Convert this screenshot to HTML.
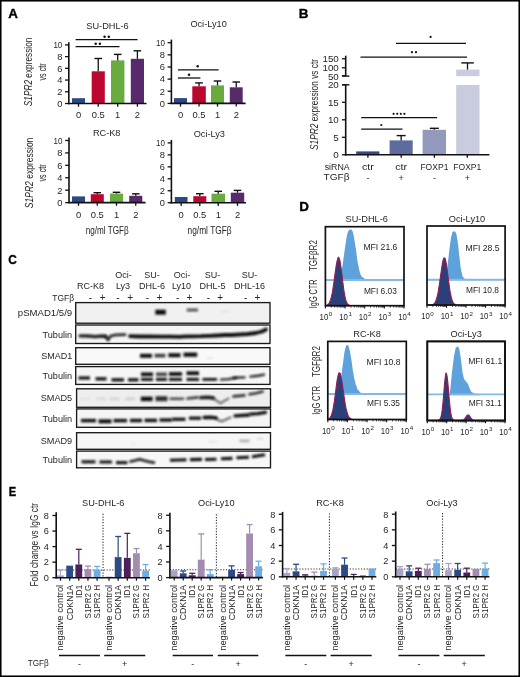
<!DOCTYPE html>
<html><head><meta charset="utf-8"><style>
html,body{margin:0;padding:0;background:#fff;}
body{width:520px;height:677px;overflow:hidden;}
svg{display:block;font-family:"Liberation Sans", sans-serif;filter:blur(0.3px);}
</style></head><body>
<svg width="520" height="677" viewBox="0 0 520 677">
<rect x="0" y="0" width="520" height="677" fill="#fff"/>
<text x="13.00" y="17.75" font-size="13.4" text-anchor="middle" font-weight="bold" fill="#000" stroke="#000" stroke-width="0.35">A</text>
<rect x="72.00" y="98.20" width="13.00" height="5.30" fill="#2c4a82" />
<rect x="91.70" y="71.30" width="13.10" height="32.20" fill="#bb0630" />
<rect x="111.00" y="60.40" width="13.40" height="43.10" fill="#6aab3f" />
<rect x="130.80" y="58.80" width="13.20" height="44.70" fill="#582a6c" />
<line x1="98.25" y1="71.30" x2="98.25" y2="58.50" stroke="#111" stroke-width="1.3" />
<line x1="94.45" y1="58.50" x2="102.05" y2="58.50" stroke="#111" stroke-width="1.4" />
<line x1="117.70" y1="60.40" x2="117.70" y2="54.40" stroke="#111" stroke-width="1.3" />
<line x1="113.90" y1="54.40" x2="121.50" y2="54.40" stroke="#111" stroke-width="1.4" />
<line x1="137.40" y1="58.80" x2="137.40" y2="50.80" stroke="#111" stroke-width="1.3" />
<line x1="133.60" y1="50.80" x2="141.20" y2="50.80" stroke="#111" stroke-width="1.4" />
<line x1="68.80" y1="42.20" x2="68.80" y2="104.20" stroke="#111" stroke-width="1.6" />
<line x1="68.00" y1="103.50" x2="146.50" y2="103.50" stroke="#111" stroke-width="1.6" />
<line x1="65.00" y1="103.50" x2="68.80" y2="103.50" stroke="#111" stroke-width="1.3" />
<text x="62.30" y="106.85" font-size="9.3" text-anchor="end" fill="#262626" >0</text>
<line x1="65.00" y1="91.78" x2="68.80" y2="91.78" stroke="#111" stroke-width="1.3" />
<text x="62.30" y="95.13" font-size="9.3" text-anchor="end" fill="#262626" >2</text>
<line x1="65.00" y1="80.06" x2="68.80" y2="80.06" stroke="#111" stroke-width="1.3" />
<text x="62.30" y="83.41" font-size="9.3" text-anchor="end" fill="#262626" >4</text>
<line x1="65.00" y1="68.34" x2="68.80" y2="68.34" stroke="#111" stroke-width="1.3" />
<text x="62.30" y="71.69" font-size="9.3" text-anchor="end" fill="#262626" >6</text>
<line x1="65.00" y1="56.62" x2="68.80" y2="56.62" stroke="#111" stroke-width="1.3" />
<text x="62.30" y="59.97" font-size="9.3" text-anchor="end" fill="#262626" >8</text>
<line x1="65.00" y1="44.90" x2="68.80" y2="44.90" stroke="#111" stroke-width="1.3" />
<text x="62.30" y="48.25" font-size="9.3" text-anchor="end" fill="#262626" textLength="8.90" lengthAdjust="spacingAndGlyphs" >10</text>
<line x1="78.50" y1="103.50" x2="78.50" y2="106.70" stroke="#111" stroke-width="1.3" />
<text x="78.50" y="118.00" font-size="9.4" text-anchor="middle" fill="#262626" >0</text>
<line x1="98.25" y1="103.50" x2="98.25" y2="106.70" stroke="#111" stroke-width="1.3" />
<text x="98.25" y="118.00" font-size="9.4" text-anchor="middle" fill="#262626" >0.5</text>
<line x1="117.70" y1="103.50" x2="117.70" y2="106.70" stroke="#111" stroke-width="1.3" />
<text x="117.70" y="118.00" font-size="9.4" text-anchor="middle" fill="#262626" >1</text>
<line x1="137.40" y1="103.50" x2="137.40" y2="106.70" stroke="#111" stroke-width="1.3" />
<text x="137.40" y="118.00" font-size="9.4" text-anchor="middle" fill="#262626" >2</text>
<text x="107.50" y="28.80" font-size="9.2" text-anchor="middle" fill="#262626" >SU-DHL-6</text>
<line x1="75.60" y1="39.60" x2="137.60" y2="39.60" stroke="#111" stroke-width="1.3" />
<circle cx="104.60" cy="36.80" r="1.25" fill="#111"/>
<circle cx="108.80" cy="36.80" r="1.25" fill="#111"/>
<line x1="75.60" y1="46.60" x2="119.50" y2="46.60" stroke="#111" stroke-width="1.3" />
<circle cx="95.70" cy="43.70" r="1.25" fill="#111"/>
<circle cx="99.90" cy="43.70" r="1.25" fill="#111"/>
<rect x="174.00" y="98.10" width="13.00" height="5.30" fill="#2c4a82" />
<rect x="192.30" y="86.30" width="13.50" height="17.10" fill="#bb0630" />
<rect x="211.00" y="85.40" width="13.00" height="18.00" fill="#6aab3f" />
<rect x="229.80" y="87.30" width="12.90" height="16.10" fill="#582a6c" />
<line x1="199.05" y1="86.30" x2="199.05" y2="82.90" stroke="#111" stroke-width="1.3" />
<line x1="195.25" y1="82.90" x2="202.85" y2="82.90" stroke="#111" stroke-width="1.4" />
<line x1="217.50" y1="85.40" x2="217.50" y2="81.00" stroke="#111" stroke-width="1.3" />
<line x1="213.70" y1="81.00" x2="221.30" y2="81.00" stroke="#111" stroke-width="1.4" />
<line x1="236.25" y1="87.30" x2="236.25" y2="82.00" stroke="#111" stroke-width="1.3" />
<line x1="232.45" y1="82.00" x2="240.05" y2="82.00" stroke="#111" stroke-width="1.4" />
<line x1="171.40" y1="39.60" x2="171.40" y2="104.10" stroke="#111" stroke-width="1.6" />
<line x1="170.60" y1="103.40" x2="245.60" y2="103.40" stroke="#111" stroke-width="1.6" />
<line x1="167.60" y1="103.40" x2="171.40" y2="103.40" stroke="#111" stroke-width="1.3" />
<text x="164.90" y="106.75" font-size="9.3" text-anchor="end" fill="#262626" >0</text>
<line x1="167.60" y1="91.26" x2="171.40" y2="91.26" stroke="#111" stroke-width="1.3" />
<text x="164.90" y="94.61" font-size="9.3" text-anchor="end" fill="#262626" >2</text>
<line x1="167.60" y1="79.12" x2="171.40" y2="79.12" stroke="#111" stroke-width="1.3" />
<text x="164.90" y="82.47" font-size="9.3" text-anchor="end" fill="#262626" >4</text>
<line x1="167.60" y1="66.98" x2="171.40" y2="66.98" stroke="#111" stroke-width="1.3" />
<text x="164.90" y="70.33" font-size="9.3" text-anchor="end" fill="#262626" >6</text>
<line x1="167.60" y1="54.84" x2="171.40" y2="54.84" stroke="#111" stroke-width="1.3" />
<text x="164.90" y="58.19" font-size="9.3" text-anchor="end" fill="#262626" >8</text>
<line x1="167.60" y1="42.70" x2="171.40" y2="42.70" stroke="#111" stroke-width="1.3" />
<text x="164.90" y="46.05" font-size="9.3" text-anchor="end" fill="#262626" textLength="8.90" lengthAdjust="spacingAndGlyphs" >10</text>
<line x1="180.50" y1="103.40" x2="180.50" y2="106.60" stroke="#111" stroke-width="1.3" />
<text x="180.50" y="118.00" font-size="9.4" text-anchor="middle" fill="#262626" >0</text>
<line x1="199.05" y1="103.40" x2="199.05" y2="106.60" stroke="#111" stroke-width="1.3" />
<text x="199.05" y="118.00" font-size="9.4" text-anchor="middle" fill="#262626" >0.5</text>
<line x1="217.50" y1="103.40" x2="217.50" y2="106.60" stroke="#111" stroke-width="1.3" />
<text x="217.50" y="118.00" font-size="9.4" text-anchor="middle" fill="#262626" >1</text>
<line x1="236.25" y1="103.40" x2="236.25" y2="106.60" stroke="#111" stroke-width="1.3" />
<text x="236.25" y="118.00" font-size="9.4" text-anchor="middle" fill="#262626" >2</text>
<text x="208.60" y="27.10" font-size="9.2" text-anchor="middle" fill="#262626" >Oci-Ly10</text>
<line x1="177.90" y1="69.80" x2="218.60" y2="69.80" stroke="#111" stroke-width="1.3" />
<circle cx="197.70" cy="66.30" r="1.25" fill="#111"/>
<line x1="177.90" y1="78.00" x2="200.40" y2="78.00" stroke="#111" stroke-width="1.3" />
<circle cx="189.00" cy="74.80" r="1.25" fill="#111"/>
<rect x="72.00" y="196.40" width="13.00" height="6.20" fill="#2c4a82" />
<rect x="90.80" y="194.20" width="13.00" height="8.40" fill="#bb0630" />
<rect x="110.00" y="193.60" width="13.00" height="9.00" fill="#6aab3f" />
<rect x="129.20" y="195.80" width="13.10" height="6.80" fill="#582a6c" />
<line x1="97.30" y1="194.20" x2="97.30" y2="192.70" stroke="#111" stroke-width="1.3" />
<line x1="93.50" y1="192.70" x2="101.10" y2="192.70" stroke="#111" stroke-width="1.4" />
<line x1="116.50" y1="193.60" x2="116.50" y2="192.30" stroke="#111" stroke-width="1.3" />
<line x1="112.70" y1="192.30" x2="120.30" y2="192.30" stroke="#111" stroke-width="1.4" />
<line x1="135.75" y1="195.80" x2="135.75" y2="193.80" stroke="#111" stroke-width="1.3" />
<line x1="131.95" y1="193.80" x2="139.55" y2="193.80" stroke="#111" stroke-width="1.4" />
<line x1="69.00" y1="137.50" x2="69.00" y2="203.30" stroke="#111" stroke-width="1.6" />
<line x1="68.20" y1="202.60" x2="145.60" y2="202.60" stroke="#111" stroke-width="1.6" />
<line x1="65.20" y1="202.60" x2="69.00" y2="202.60" stroke="#111" stroke-width="1.3" />
<text x="62.50" y="205.95" font-size="9.3" text-anchor="end" fill="#262626" >0</text>
<line x1="65.20" y1="190.18" x2="69.00" y2="190.18" stroke="#111" stroke-width="1.3" />
<text x="62.50" y="193.53" font-size="9.3" text-anchor="end" fill="#262626" >2</text>
<line x1="65.20" y1="177.76" x2="69.00" y2="177.76" stroke="#111" stroke-width="1.3" />
<text x="62.50" y="181.11" font-size="9.3" text-anchor="end" fill="#262626" >4</text>
<line x1="65.20" y1="165.34" x2="69.00" y2="165.34" stroke="#111" stroke-width="1.3" />
<text x="62.50" y="168.69" font-size="9.3" text-anchor="end" fill="#262626" >6</text>
<line x1="65.20" y1="152.92" x2="69.00" y2="152.92" stroke="#111" stroke-width="1.3" />
<text x="62.50" y="156.27" font-size="9.3" text-anchor="end" fill="#262626" >8</text>
<line x1="65.20" y1="140.50" x2="69.00" y2="140.50" stroke="#111" stroke-width="1.3" />
<text x="62.50" y="143.85" font-size="9.3" text-anchor="end" fill="#262626" textLength="8.90" lengthAdjust="spacingAndGlyphs" >10</text>
<line x1="78.50" y1="202.60" x2="78.50" y2="205.80" stroke="#111" stroke-width="1.3" />
<text x="78.50" y="217.80" font-size="9.4" text-anchor="middle" fill="#262626" >0</text>
<line x1="97.30" y1="202.60" x2="97.30" y2="205.80" stroke="#111" stroke-width="1.3" />
<text x="97.30" y="217.80" font-size="9.4" text-anchor="middle" fill="#262626" >0.5</text>
<line x1="116.50" y1="202.60" x2="116.50" y2="205.80" stroke="#111" stroke-width="1.3" />
<text x="116.50" y="217.80" font-size="9.4" text-anchor="middle" fill="#262626" >1</text>
<line x1="135.75" y1="202.60" x2="135.75" y2="205.80" stroke="#111" stroke-width="1.3" />
<text x="135.75" y="217.80" font-size="9.4" text-anchor="middle" fill="#262626" >2</text>
<text x="106.70" y="135.90" font-size="9.2" text-anchor="middle" fill="#262626" >RC-K8</text>
<rect x="174.80" y="197.00" width="12.70" height="5.70" fill="#2c4a82" />
<rect x="193.30" y="196.20" width="13.00" height="6.50" fill="#bb0630" />
<rect x="211.50" y="193.70" width="13.50" height="9.00" fill="#6aab3f" />
<rect x="230.80" y="192.70" width="13.40" height="10.00" fill="#582a6c" />
<line x1="199.80" y1="196.20" x2="199.80" y2="193.70" stroke="#111" stroke-width="1.3" />
<line x1="196.00" y1="193.70" x2="203.60" y2="193.70" stroke="#111" stroke-width="1.4" />
<line x1="218.25" y1="193.70" x2="218.25" y2="191.30" stroke="#111" stroke-width="1.3" />
<line x1="214.45" y1="191.30" x2="222.05" y2="191.30" stroke="#111" stroke-width="1.4" />
<line x1="237.50" y1="192.70" x2="237.50" y2="190.40" stroke="#111" stroke-width="1.3" />
<line x1="233.70" y1="190.40" x2="241.30" y2="190.40" stroke="#111" stroke-width="1.4" />
<line x1="171.40" y1="139.90" x2="171.40" y2="203.40" stroke="#111" stroke-width="1.6" />
<line x1="170.60" y1="202.70" x2="246.00" y2="202.70" stroke="#111" stroke-width="1.6" />
<line x1="167.60" y1="202.70" x2="171.40" y2="202.70" stroke="#111" stroke-width="1.3" />
<text x="164.90" y="206.05" font-size="9.3" text-anchor="end" fill="#262626" >0</text>
<line x1="167.60" y1="190.74" x2="171.40" y2="190.74" stroke="#111" stroke-width="1.3" />
<text x="164.90" y="194.09" font-size="9.3" text-anchor="end" fill="#262626" >2</text>
<line x1="167.60" y1="178.78" x2="171.40" y2="178.78" stroke="#111" stroke-width="1.3" />
<text x="164.90" y="182.13" font-size="9.3" text-anchor="end" fill="#262626" >4</text>
<line x1="167.60" y1="166.82" x2="171.40" y2="166.82" stroke="#111" stroke-width="1.3" />
<text x="164.90" y="170.17" font-size="9.3" text-anchor="end" fill="#262626" >6</text>
<line x1="167.60" y1="154.86" x2="171.40" y2="154.86" stroke="#111" stroke-width="1.3" />
<text x="164.90" y="158.21" font-size="9.3" text-anchor="end" fill="#262626" >8</text>
<line x1="167.60" y1="142.90" x2="171.40" y2="142.90" stroke="#111" stroke-width="1.3" />
<text x="164.90" y="146.25" font-size="9.3" text-anchor="end" fill="#262626" textLength="8.90" lengthAdjust="spacingAndGlyphs" >10</text>
<line x1="181.15" y1="202.70" x2="181.15" y2="205.90" stroke="#111" stroke-width="1.3" />
<text x="181.15" y="217.80" font-size="9.4" text-anchor="middle" fill="#262626" >0</text>
<line x1="199.80" y1="202.70" x2="199.80" y2="205.90" stroke="#111" stroke-width="1.3" />
<text x="199.80" y="217.80" font-size="9.4" text-anchor="middle" fill="#262626" >0.5</text>
<line x1="218.25" y1="202.70" x2="218.25" y2="205.90" stroke="#111" stroke-width="1.3" />
<text x="218.25" y="217.80" font-size="9.4" text-anchor="middle" fill="#262626" >1</text>
<line x1="237.50" y1="202.70" x2="237.50" y2="205.90" stroke="#111" stroke-width="1.3" />
<text x="237.50" y="217.80" font-size="9.4" text-anchor="middle" fill="#262626" >2</text>
<text x="209.30" y="136.60" font-size="9.2" text-anchor="middle" fill="#262626" >Oci-Ly3</text>
<text x="0" y="0" font-size="10.4" text-anchor="middle" fill="#262626" transform="translate(32.30,71.90) rotate(-90)" textLength="68.5" lengthAdjust="spacingAndGlyphs"><tspan font-style="italic">S1PR2</tspan> expression</text>
<text x="0" y="0" font-size="10.4" text-anchor="middle" fill="#262626" transform="translate(45.50,71.90) rotate(-90)" textLength="17.3" lengthAdjust="spacingAndGlyphs">vs ctr</text>
<text x="0" y="0" font-size="10.4" text-anchor="middle" fill="#262626" transform="translate(33.10,172.90) rotate(-90)" textLength="70.5" lengthAdjust="spacingAndGlyphs"><tspan font-style="italic">S1PR2</tspan> expression</text>
<text x="0" y="0" font-size="10.4" text-anchor="middle" fill="#262626" transform="translate(46.10,172.90) rotate(-90)" textLength="17.3" lengthAdjust="spacingAndGlyphs">vs ctr</text>
<text x="107.20" y="234.40" font-size="10.4" text-anchor="middle" fill="#262626" textLength="43.00" lengthAdjust="spacingAndGlyphs" >ng/ml TGFβ</text>
<text x="209.60" y="234.40" font-size="10.4" text-anchor="middle" fill="#262626" textLength="44.00" lengthAdjust="spacingAndGlyphs" >ng/ml TGFβ</text>
<text x="303.50" y="17.75" font-size="13.4" text-anchor="middle" font-weight="bold" fill="#000" stroke="#000" stroke-width="0.35">B</text>
<rect x="356.20" y="151.40" width="23.20" height="3.40" fill="#2f4b80" />
<rect x="389.60" y="140.40" width="23.10" height="14.40" fill="#5d6b9d" />
<rect x="422.60" y="129.80" width="23.40" height="25.00" fill="#9299bd" />
<rect x="456.20" y="85.00" width="23.30" height="69.80" fill="#c9cbdf" />
<rect x="456.20" y="69.60" width="23.30" height="6.60" fill="#c9cbdf" />
<line x1="401.15" y1="140.40" x2="401.15" y2="135.60" stroke="#111" stroke-width="1.3" />
<line x1="396.65" y1="135.60" x2="405.65" y2="135.60" stroke="#111" stroke-width="1.4" />
<line x1="434.30" y1="129.80" x2="434.30" y2="128.30" stroke="#111" stroke-width="1.3" />
<line x1="429.80" y1="128.30" x2="438.80" y2="128.30" stroke="#111" stroke-width="1.4" />
<line x1="467.50" y1="69.60" x2="467.50" y2="62.90" stroke="#111" stroke-width="1.3" />
<line x1="461.30" y1="62.90" x2="473.80" y2="62.90" stroke="#111" stroke-width="1.4" />
<line x1="345.70" y1="84.80" x2="345.70" y2="155.50" stroke="#111" stroke-width="1.6" />
<line x1="345.70" y1="55.70" x2="345.70" y2="76.10" stroke="#111" stroke-width="1.6" />
<line x1="342.20" y1="76.10" x2="349.40" y2="76.10" stroke="#111" stroke-width="1.4" />
<line x1="342.20" y1="84.80" x2="349.40" y2="84.80" stroke="#111" stroke-width="1.4" />
<line x1="344.90" y1="154.80" x2="489.40" y2="154.80" stroke="#111" stroke-width="1.6" />
<line x1="341.90" y1="154.80" x2="345.70" y2="154.80" stroke="#111" stroke-width="1.3" />
<text x="338.80" y="158.30" font-size="9.8" text-anchor="end" fill="#262626" >0</text>
<line x1="341.90" y1="137.30" x2="345.70" y2="137.30" stroke="#111" stroke-width="1.3" />
<text x="338.80" y="140.80" font-size="9.8" text-anchor="end" fill="#262626" >5</text>
<line x1="341.90" y1="119.80" x2="345.70" y2="119.80" stroke="#111" stroke-width="1.3" />
<text x="338.80" y="123.30" font-size="9.8" text-anchor="end" fill="#262626" >10</text>
<line x1="341.90" y1="102.30" x2="345.70" y2="102.30" stroke="#111" stroke-width="1.3" />
<text x="338.80" y="105.80" font-size="9.8" text-anchor="end" fill="#262626" >15</text>
<line x1="341.90" y1="84.80" x2="345.70" y2="84.80" stroke="#111" stroke-width="1.3" />
<text x="338.80" y="88.30" font-size="9.8" text-anchor="end" fill="#262626" >20</text>
<line x1="341.90" y1="58.80" x2="345.70" y2="58.80" stroke="#111" stroke-width="1.3" />
<text x="338.80" y="62.00" font-size="9.8" text-anchor="end" fill="#262626" >150</text>
<line x1="341.90" y1="67.80" x2="345.70" y2="67.80" stroke="#111" stroke-width="1.3" />
<text x="338.80" y="70.90" font-size="9.8" text-anchor="end" fill="#262626" >100</text>
<line x1="341.90" y1="75.80" x2="345.70" y2="75.80" stroke="#111" stroke-width="1.3" />
<text x="338.80" y="79.50" font-size="9.8" text-anchor="end" fill="#262626" >50</text>
<line x1="367.90" y1="154.80" x2="367.90" y2="157.80" stroke="#111" stroke-width="1.3" />
<line x1="401.20" y1="154.80" x2="401.20" y2="157.80" stroke="#111" stroke-width="1.3" />
<line x1="434.40" y1="154.80" x2="434.40" y2="157.80" stroke="#111" stroke-width="1.3" />
<line x1="467.30" y1="154.80" x2="467.30" y2="157.80" stroke="#111" stroke-width="1.3" />
<text x="337.20" y="169.70" font-size="9.6" text-anchor="middle" fill="#262626" textLength="25.00" lengthAdjust="spacingAndGlyphs" >siRNA</text>
<text x="336.50" y="180.40" font-size="9.6" text-anchor="middle" fill="#262626" textLength="26.00" lengthAdjust="spacingAndGlyphs" >TGFβ</text>
<text x="367.90" y="169.70" font-size="9.6" text-anchor="middle" fill="#262626" textLength="12.00" lengthAdjust="spacingAndGlyphs" >ctr</text>
<text x="367.90" y="181.00" font-size="9" text-anchor="middle" fill="#262626" >-</text>
<text x="401.20" y="169.70" font-size="9.6" text-anchor="middle" fill="#262626" textLength="12.00" lengthAdjust="spacingAndGlyphs" >ctr</text>
<text x="401.20" y="181.00" font-size="9" text-anchor="middle" fill="#262626" >+</text>
<text x="434.40" y="169.70" font-size="9.6" text-anchor="middle" fill="#262626" textLength="28.00" lengthAdjust="spacingAndGlyphs" >FOXP1</text>
<text x="434.40" y="181.00" font-size="9" text-anchor="middle" fill="#262626" >-</text>
<text x="467.30" y="169.70" font-size="9.6" text-anchor="middle" fill="#262626" textLength="28.00" lengthAdjust="spacingAndGlyphs" >FOXP1</text>
<text x="467.30" y="181.00" font-size="9" text-anchor="middle" fill="#262626" >+</text>
<text x="0" y="0" font-size="10.4" text-anchor="middle" fill="#262626" transform="translate(317.90,104.50) rotate(-90)" textLength="91" lengthAdjust="spacingAndGlyphs"><tspan font-style="italic">S1PR2</tspan> expression vs ctr</text>
<line x1="396.00" y1="43.40" x2="466.00" y2="43.40" stroke="#111" stroke-width="1.3" />
<circle cx="430.60" cy="36.90" r="1.1" fill="#111"/>
<line x1="360.50" y1="57.10" x2="467.00" y2="57.10" stroke="#111" stroke-width="1.3" />
<circle cx="412.00" cy="52.20" r="1.1" fill="#111"/>
<circle cx="416.00" cy="52.20" r="1.1" fill="#111"/>
<line x1="361.20" y1="117.60" x2="437.10" y2="117.60" stroke="#111" stroke-width="1.3" />
<circle cx="393.60" cy="113.80" r="1.1" fill="#111"/>
<circle cx="397.20" cy="113.80" r="1.1" fill="#111"/>
<circle cx="400.80" cy="113.80" r="1.1" fill="#111"/>
<circle cx="404.40" cy="113.80" r="1.1" fill="#111"/>
<line x1="361.20" y1="129.20" x2="402.50" y2="129.20" stroke="#111" stroke-width="1.3" />
<circle cx="381.30" cy="125.00" r="1.1" fill="#111"/>
<text x="12.50" y="263.95" font-size="13.4" text-anchor="middle" font-weight="bold" fill="#000" textLength="8.60" lengthAdjust="spacingAndGlyphs" stroke="#000" stroke-width="0.35">C</text>
<text x="90.50" y="289.40" font-size="9" text-anchor="middle" fill="#262626" >RC-K8</text>
<text x="123.50" y="278.30" font-size="9" text-anchor="middle" fill="#262626" >Oci-</text>
<text x="123.00" y="289.40" font-size="9" text-anchor="middle" fill="#262626" >Ly3</text>
<text x="152.00" y="278.30" font-size="9" text-anchor="middle" fill="#262626" >SU-</text>
<text x="152.00" y="289.40" font-size="9" text-anchor="middle" fill="#262626" >DHL-6</text>
<text x="182.00" y="278.30" font-size="9" text-anchor="middle" fill="#262626" >Oci-</text>
<text x="181.50" y="289.40" font-size="9" text-anchor="middle" fill="#262626" >Ly10</text>
<text x="212.50" y="278.30" font-size="9" text-anchor="middle" fill="#262626" >SU-</text>
<text x="212.50" y="289.40" font-size="9" text-anchor="middle" fill="#262626" >DHL-5</text>
<text x="249.50" y="278.30" font-size="9" text-anchor="middle" fill="#262626" >SU-</text>
<text x="249.50" y="289.40" font-size="9" text-anchor="middle" fill="#262626" >DHL-16</text>
<text x="63.20" y="300.60" font-size="9.4" text-anchor="middle" fill="#262626" textLength="21.70" lengthAdjust="spacingAndGlyphs" >TGFβ</text>
<text x="90.30" y="300.90" font-size="10" text-anchor="middle" fill="#262626" >-</text>
<text x="102.70" y="300.90" font-size="10" text-anchor="middle" fill="#262626" >+</text>
<text x="118.00" y="300.90" font-size="10" text-anchor="middle" fill="#262626" >-</text>
<text x="130.20" y="300.90" font-size="10" text-anchor="middle" fill="#262626" >+</text>
<text x="147.30" y="300.90" font-size="10" text-anchor="middle" fill="#262626" >-</text>
<text x="159.40" y="300.90" font-size="10" text-anchor="middle" fill="#262626" >+</text>
<text x="177.60" y="300.90" font-size="10" text-anchor="middle" fill="#262626" >-</text>
<text x="189.30" y="300.90" font-size="10" text-anchor="middle" fill="#262626" >+</text>
<text x="208.30" y="300.90" font-size="10" text-anchor="middle" fill="#262626" >-</text>
<text x="220.10" y="300.90" font-size="10" text-anchor="middle" fill="#262626" >+</text>
<text x="245.60" y="300.90" font-size="10" text-anchor="middle" fill="#262626" >-</text>
<text x="257.30" y="300.90" font-size="10" text-anchor="middle" fill="#262626" >+</text>
<defs><filter id="bl" filterUnits="userSpaceOnUse" x="0" y="0" width="520" height="677"><feGaussianBlur stdDeviation="0.8"/></filter><filter id="bl2" filterUnits="userSpaceOnUse" x="0" y="0" width="520" height="677"><feGaussianBlur stdDeviation="1.3"/></filter></defs>
<rect x="75.70" y="302.60" width="194.30" height="20.60" fill="#f1f1f1" />
<text x="72.20" y="316.30" font-size="9.6" text-anchor="end" fill="#262626" textLength="54.40" lengthAdjust="spacingAndGlyphs" >pSMAD1/5/9</text>
<rect x="75.70" y="325.00" width="194.30" height="18.50" fill="#f5f5f5" />
<text x="72.20" y="337.65" font-size="9.6" text-anchor="end" fill="#262626" textLength="29.70" lengthAdjust="spacingAndGlyphs" >Tubulin</text>
<rect x="75.70" y="347.70" width="194.30" height="16.60" fill="#f9f9f9" />
<text x="72.20" y="359.40" font-size="9.6" text-anchor="end" fill="#262626" textLength="31.00" lengthAdjust="spacingAndGlyphs" >SMAD1</text>
<rect x="75.70" y="366.60" width="194.30" height="17.80" fill="#f6f6f6" />
<text x="72.20" y="378.90" font-size="9.6" text-anchor="end" fill="#262626" textLength="29.70" lengthAdjust="spacingAndGlyphs" >Tubulin</text>
<rect x="76.60" y="388.80" width="193.90" height="18.50" fill="#eeeeee" />
<text x="72.20" y="401.45" font-size="9.6" text-anchor="end" fill="#262626" textLength="31.50" lengthAdjust="spacingAndGlyphs" >SMAD5</text>
<rect x="76.60" y="408.90" width="193.90" height="18.40" fill="#f5f5f5" />
<text x="72.20" y="421.50" font-size="9.6" text-anchor="end" fill="#262626" textLength="29.70" lengthAdjust="spacingAndGlyphs" >Tubulin</text>
<rect x="76.60" y="432.70" width="193.90" height="16.60" fill="#f6f6f6" />
<text x="72.20" y="444.40" font-size="9.6" text-anchor="end" fill="#262626" textLength="31.50" lengthAdjust="spacingAndGlyphs" >SMAD9</text>
<rect x="76.60" y="451.10" width="193.90" height="16.70" fill="#f7f7f7" />
<text x="72.20" y="462.85" font-size="9.6" text-anchor="end" fill="#262626" textLength="29.70" lengthAdjust="spacingAndGlyphs" >Tubulin</text>
<path d="M155.30,312.20 L165.80,312.20" stroke="#111" stroke-width="5.0" stroke-linecap="butt" fill="none" opacity="1.0" filter="url(#bl)"/>
<path d="M186.80,310.00 L198.00,310.00" stroke="#111" stroke-width="2.8" stroke-linecap="butt" fill="none" opacity="0.72" filter="url(#bl)"/>
<path d="M220.00,311.50 L230.00,311.50" stroke="#111" stroke-width="2" stroke-linecap="butt" fill="none" opacity="0.05" filter="url(#bl2)"/>
<path d="M80.00,335.80 L88.00,336.00 L95.00,336.60 L102.00,336.00 L105.50,336.30" stroke="#111" stroke-width="3.3" stroke-linecap="round" stroke-linejoin="round" fill="none" opacity="0.92" filter="url(#bl)"/>
<path d="M105.50,336.30 L108.00,340.00 L110.50,336.00 L116.00,334.80 L125.00,334.60" stroke="#111" stroke-width="2.8" stroke-linecap="round" stroke-linejoin="round" fill="none" opacity="0.9" filter="url(#bl)"/>
<path d="M130.00,336.20 L140.00,336.50 L150.00,336.50 L160.00,336.60 L170.00,336.60 L180.00,336.80 L186.00,336.30 L192.00,336.30 L201.00,336.20 L210.00,335.80 L217.00,335.50 L225.00,335.00 L232.00,335.00 L240.00,334.50 L248.00,334.00 L256.00,333.00 L262.00,331.50 L266.00,329.50" stroke="#111" stroke-width="3.8" stroke-linecap="round" stroke-linejoin="round" fill="none" opacity="1.0" filter="url(#bl)"/>
<path d="M140.00,355.80 L152.00,355.80" stroke="#111" stroke-width="4.0" stroke-linecap="butt" fill="none" opacity="1.0" filter="url(#bl)"/>
<path d="M154.50,355.60 L165.50,355.60" stroke="#111" stroke-width="3.6" stroke-linecap="butt" fill="none" opacity="0.8" filter="url(#bl)"/>
<path d="M168.30,355.20 L180.50,355.20" stroke="#111" stroke-width="4.0" stroke-linecap="butt" fill="none" opacity="1.0" filter="url(#bl)"/>
<path d="M183.60,354.70 L197.20,354.70" stroke="#111" stroke-width="4.2" stroke-linecap="butt" fill="none" opacity="1.0" filter="url(#bl)"/>
<path d="M206.00,358.20 L213.00,358.20" stroke="#111" stroke-width="2" stroke-linecap="butt" fill="none" opacity="0.08" filter="url(#bl2)"/>
<path d="M78.50,378.00 L90.00,378.00" stroke="#111" stroke-width="3.2" stroke-linecap="butt" fill="none" opacity="1.0" filter="url(#bl)"/>
<path d="M95.50,378.80 L106.50,378.80" stroke="#111" stroke-width="3.2" stroke-linecap="butt" fill="none" opacity="1.0" filter="url(#bl)"/>
<path d="M111.50,379.80 L124.00,379.80" stroke="#111" stroke-width="3.2" stroke-linecap="butt" fill="none" opacity="1.0" filter="url(#bl)"/>
<path d="M128.00,379.80 L138.50,379.80" stroke="#111" stroke-width="3.2" stroke-linecap="butt" fill="none" opacity="1.0" filter="url(#bl)"/>
<path d="M141.00,379.40 L153.00,379.40" stroke="#111" stroke-width="3.0" stroke-linecap="butt" fill="none" opacity="1.0" filter="url(#bl)"/>
<path d="M141.00,374.30 L153.00,374.30" stroke="#111" stroke-width="3.8" stroke-linecap="butt" fill="none" opacity="1.0" filter="url(#bl)"/>
<path d="M156.00,379.40 L167.00,379.40" stroke="#111" stroke-width="3.0" stroke-linecap="butt" fill="none" opacity="1.0" filter="url(#bl)"/>
<path d="M156.00,374.30 L167.00,374.30" stroke="#111" stroke-width="3.8" stroke-linecap="butt" fill="none" opacity="0.75" filter="url(#bl)"/>
<path d="M169.00,379.40 L182.00,379.40" stroke="#111" stroke-width="3.0" stroke-linecap="butt" fill="none" opacity="1.0" filter="url(#bl)"/>
<path d="M169.00,374.00 L182.00,374.00" stroke="#111" stroke-width="3.8" stroke-linecap="butt" fill="none" opacity="1.0" filter="url(#bl)"/>
<path d="M186.50,379.40 L199.00,379.40" stroke="#111" stroke-width="3.0" stroke-linecap="butt" fill="none" opacity="1.0" filter="url(#bl)"/>
<path d="M186.50,373.20 L199.00,373.20" stroke="#111" stroke-width="3.8" stroke-linecap="butt" fill="none" opacity="1.0" filter="url(#bl)"/>
<path d="M203.50,379.40 L216.00,379.40" stroke="#111" stroke-width="2.6" stroke-linecap="round" stroke-linejoin="round" fill="none" opacity="1.0" filter="url(#bl)"/>
<path d="M221.00,379.60 L228.00,379.20 L236.00,378.00" stroke="#111" stroke-width="2.2" stroke-linecap="round" stroke-linejoin="round" fill="none" opacity="0.9" filter="url(#bl)"/>
<path d="M233.50,377.80 L244.50,377.40" stroke="#111" stroke-width="2.4" stroke-linecap="round" stroke-linejoin="round" fill="none" opacity="0.9" filter="url(#bl)"/>
<path d="M250.50,376.60 L258.00,375.80 L264.00,374.60" stroke="#111" stroke-width="2.4" stroke-linecap="round" stroke-linejoin="round" fill="none" opacity="0.9" filter="url(#bl)"/>
<path d="M80.00,398.80 L90.00,398.80" stroke="#111" stroke-width="3" stroke-linecap="butt" fill="none" opacity="0.04" filter="url(#bl2)"/>
<path d="M96.00,398.80 L106.00,398.80" stroke="#111" stroke-width="3" stroke-linecap="butt" fill="none" opacity="0.08" filter="url(#bl2)"/>
<path d="M109.50,398.80 L119.50,398.80" stroke="#111" stroke-width="3" stroke-linecap="butt" fill="none" opacity="0.1" filter="url(#bl2)"/>
<path d="M125.00,398.80 L135.00,398.80" stroke="#111" stroke-width="3" stroke-linecap="butt" fill="none" opacity="0.12" filter="url(#bl2)"/>
<path d="M140.80,398.90 L152.60,398.90" stroke="#111" stroke-width="4.4" stroke-linecap="butt" fill="none" opacity="1.0" filter="url(#bl)"/>
<path d="M155.60,398.70 L167.40,398.70" stroke="#111" stroke-width="5.0" stroke-linecap="butt" fill="none" opacity="0.85" filter="url(#bl)"/>
<path d="M170.50,398.80 L183.00,398.80" stroke="#111" stroke-width="2.6" stroke-linecap="round" stroke-linejoin="round" fill="none" opacity="0.75" filter="url(#bl)"/>
<path d="M187.50,398.50 L197.50,397.40" stroke="#111" stroke-width="2.6" stroke-linecap="round" stroke-linejoin="round" fill="none" opacity="0.8" filter="url(#bl)"/>
<path d="M200.50,397.60 L208.00,397.20 L213.00,398.00" stroke="#111" stroke-width="3.4" stroke-linecap="round" stroke-linejoin="round" fill="none" opacity="0.95" filter="url(#bl)"/>
<path d="M213.00,398.00 L216.50,400.50 L220.50,403.30 L224.00,401.00 L228.50,398.60" stroke="#111" stroke-width="2.2" stroke-linecap="round" stroke-linejoin="round" fill="none" opacity="0.55" filter="url(#bl)"/>
<path d="M233.50,396.40 L244.50,395.40" stroke="#111" stroke-width="2.6" stroke-linecap="round" stroke-linejoin="round" fill="none" opacity="0.85" filter="url(#bl)"/>
<path d="M249.50,394.20 L256.00,393.20 L262.50,391.50" stroke="#111" stroke-width="2.6" stroke-linecap="round" stroke-linejoin="round" fill="none" opacity="0.85" filter="url(#bl)"/>
<path d="M81.00,420.60 L96.00,420.60" stroke="#111" stroke-width="3.4" stroke-linecap="butt" fill="none" opacity="1.0" filter="url(#bl)"/>
<path d="M98.50,421.30 L111.50,421.30" stroke="#111" stroke-width="4.0" stroke-linecap="butt" fill="none" opacity="1.0" filter="url(#bl)"/>
<path d="M113.50,420.60 L127.00,420.60" stroke="#111" stroke-width="3.4" stroke-linecap="butt" fill="none" opacity="1.0" filter="url(#bl)"/>
<path d="M130.00,420.50 L142.00,420.50" stroke="#111" stroke-width="3.4" stroke-linecap="butt" fill="none" opacity="1.0" filter="url(#bl)"/>
<path d="M144.50,420.40 L157.00,420.40" stroke="#111" stroke-width="3.4" stroke-linecap="butt" fill="none" opacity="1.0" filter="url(#bl)"/>
<path d="M159.50,420.00 L172.00,420.00" stroke="#111" stroke-width="3.4" stroke-linecap="butt" fill="none" opacity="1.0" filter="url(#bl)"/>
<path d="M172.00,419.30 L185.50,419.30" stroke="#111" stroke-width="3.2" stroke-linecap="butt" fill="none" opacity="1.0" filter="url(#bl)"/>
<path d="M189.00,418.20 L201.00,418.20" stroke="#111" stroke-width="3.2" stroke-linecap="butt" fill="none" opacity="1.0" filter="url(#bl)"/>
<path d="M204.00,417.50 L212.00,417.30 L216.00,418.00" stroke="#111" stroke-width="3.4" stroke-linecap="round" stroke-linejoin="round" fill="none" opacity="1.0" filter="url(#bl)"/>
<path d="M216.00,418.00 L219.00,420.60 L222.00,421.20 L226.00,419.40 L230.50,417.60" stroke="#111" stroke-width="2.2" stroke-linecap="round" stroke-linejoin="round" fill="none" opacity="0.6" filter="url(#bl)"/>
<path d="M235.00,415.80 L248.50,415.00" stroke="#111" stroke-width="3.3" stroke-linecap="round" stroke-linejoin="round" fill="none" opacity="1.0" filter="url(#bl)"/>
<path d="M250.50,414.20 L258.00,413.60 L265.50,412.40" stroke="#111" stroke-width="3.3" stroke-linecap="round" stroke-linejoin="round" fill="none" opacity="1.0" filter="url(#bl)"/>
<path d="M130.00,443.70 L137.00,443.70" stroke="#111" stroke-width="2" stroke-linecap="butt" fill="none" opacity="0.04" filter="url(#bl2)"/>
<path d="M208.00,441.80 L217.00,441.80" stroke="#111" stroke-width="2" stroke-linecap="butt" fill="none" opacity="0.07" filter="url(#bl2)"/>
<path d="M239.50,440.90 L249.50,440.90" stroke="#111" stroke-width="2.6" stroke-linecap="butt" fill="none" opacity="0.3" filter="url(#bl)"/>
<path d="M257.00,438.80 L263.00,438.80" stroke="#111" stroke-width="1.8" stroke-linecap="butt" fill="none" opacity="0.12" filter="url(#bl2)"/>
<path d="M81.50,461.80 L95.50,461.80" stroke="#111" stroke-width="3.0" stroke-linecap="butt" fill="none" opacity="1.0" filter="url(#bl)"/>
<path d="M99.50,462.00 L112.00,462.00" stroke="#111" stroke-width="3.0" stroke-linecap="butt" fill="none" opacity="1.0" filter="url(#bl)"/>
<path d="M116.00,462.60 L127.50,462.60" stroke="#111" stroke-width="3.0" stroke-linecap="butt" fill="none" opacity="1.0" filter="url(#bl)"/>
<path d="M130.50,461.60 L136.00,460.30 L139.50,459.30 L144.00,460.60 L149.00,461.80 L154.00,462.60" stroke="#111" stroke-width="2.6" stroke-linecap="round" stroke-linejoin="round" fill="none" opacity="0.95" filter="url(#bl)"/>
<path d="M170.00,460.20 L186.50,459.80" stroke="#111" stroke-width="3.1" stroke-linecap="butt" fill="none" opacity="1.0" filter="url(#bl)"/>
<path d="M190.00,459.60 L202.00,459.40" stroke="#111" stroke-width="3.1" stroke-linecap="butt" fill="none" opacity="1.0" filter="url(#bl)"/>
<path d="M205.00,459.50 L216.50,459.30" stroke="#111" stroke-width="3.1" stroke-linecap="butt" fill="none" opacity="1.0" filter="url(#bl)"/>
<path d="M221.00,458.80 L232.50,458.40" stroke="#111" stroke-width="3.1" stroke-linecap="butt" fill="none" opacity="1.0" filter="url(#bl)"/>
<path d="M236.50,457.80 L249.00,457.30" stroke="#111" stroke-width="3.1" stroke-linecap="butt" fill="none" opacity="1.0" filter="url(#bl)"/>
<path d="M252.00,456.80 L265.00,454.80" stroke="#111" stroke-width="3.1" stroke-linecap="butt" fill="none" opacity="1.0" filter="url(#bl)"/>
<rect x="75.70" y="302.60" width="194.30" height="20.60" fill="none" stroke="#1a1a1a" stroke-width="1.35"/>
<rect x="75.70" y="325.00" width="194.30" height="18.50" fill="none" stroke="#1a1a1a" stroke-width="1.35"/>
<rect x="75.70" y="347.70" width="194.30" height="16.60" fill="none" stroke="#1a1a1a" stroke-width="1.35"/>
<rect x="75.70" y="366.60" width="194.30" height="17.80" fill="none" stroke="#1a1a1a" stroke-width="1.35"/>
<rect x="76.60" y="388.80" width="193.90" height="18.50" fill="none" stroke="#1a1a1a" stroke-width="1.35"/>
<rect x="76.60" y="408.90" width="193.90" height="18.40" fill="none" stroke="#1a1a1a" stroke-width="1.35"/>
<rect x="76.60" y="432.70" width="193.90" height="16.60" fill="none" stroke="#1a1a1a" stroke-width="1.35"/>
<rect x="76.60" y="451.10" width="193.90" height="16.70" fill="none" stroke="#1a1a1a" stroke-width="1.35"/>
<text x="304.00" y="211.05" font-size="13.4" text-anchor="middle" font-weight="bold" fill="#000" stroke="#000" stroke-width="0.35">D</text>
<path d="M326.40,280.80 L326.40,280.00 L326.90,280.00 L327.40,280.00 L327.90,280.00 L328.40,280.00 L328.90,280.00 L329.40,280.00 L329.90,280.00 L330.40,280.00 L330.90,280.00 L331.40,280.00 L331.90,280.00 L332.40,280.00 L332.90,280.00 L333.40,280.00 L333.90,279.99 L334.40,279.98 L334.90,279.97 L335.40,279.95 L335.90,279.90 L336.40,279.83 L336.90,279.71 L337.40,279.53 L337.90,279.26 L338.40,279.22 L338.90,278.23 L339.40,277.69 L339.90,276.33 L340.40,274.95 L340.90,274.05 L341.40,272.06 L341.90,268.47 L342.40,266.47 L342.90,263.36 L343.40,258.88 L343.90,256.01 L344.40,251.79 L344.90,248.61 L345.40,244.82 L345.90,242.17 L346.40,238.49 L346.90,235.55 L347.40,233.87 L347.90,231.86 L348.40,230.70 L348.90,230.72 L349.40,229.27 L349.90,229.30 L350.40,229.64 L350.90,230.06 L351.40,229.18 L351.90,230.34 L352.40,231.02 L352.90,232.25 L353.40,234.38 L353.90,236.44 L354.40,239.92 L354.90,242.43 L355.40,246.26 L355.90,249.06 L356.40,252.68 L356.90,257.25 L357.40,260.53 L357.90,263.52 L358.40,265.29 L358.90,268.51 L359.40,270.39 L359.90,272.66 L360.40,273.87 L360.90,275.25 L361.40,276.27 L361.90,276.72 L362.40,277.33 L362.90,277.37 L363.40,278.06 L363.90,278.03 L364.40,278.39 L364.90,279.10 L365.40,279.27 L365.90,279.42 L366.40,279.54 L366.90,279.64 L367.40,279.72 L367.90,279.79 L368.40,279.84 L368.90,279.88 L369.40,279.91 L369.90,279.94 L370.40,279.96 L370.90,279.97 L371.40,279.98 L371.90,279.99 L372.40,279.99 L372.90,279.99 L373.40,280.00 L373.90,280.00 L374.40,280.00 L374.90,280.00 L375.40,280.00 L375.90,280.00 L376.40,280.00 L376.90,280.00 L377.40,280.00 L377.90,280.00 L378.40,280.00 L378.90,280.00 L379.40,280.00 L379.90,280.00 L380.40,280.00 L380.90,280.00 L381.40,280.00 L381.90,280.00 L382.40,280.00 L382.90,280.00 L383.40,280.00 L383.90,280.00 L384.40,280.00 L384.90,280.00 L385.40,280.00 L385.90,280.00 L386.40,280.00 L386.90,280.00 L387.40,280.00 L387.90,280.00 L388.40,280.00 L388.90,280.00 L389.40,280.00 L389.90,280.00 L390.40,280.00 L390.90,280.00 L391.40,280.00 L391.90,280.00 L392.40,280.00 L392.90,280.00 L393.40,280.00 L393.90,280.00 L394.40,280.00 L394.90,280.00 L395.40,280.00 L395.90,280.00 L396.40,280.00 L396.90,280.00 L397.40,280.00 L397.90,280.00 L398.40,280.00 L398.90,280.00 L399.40,280.00 L399.90,280.00 L400.40,280.00 L400.90,280.00 L401.40,280.00 L401.90,280.00 L402.40,280.00 L402.90,280.00 L402.90,280.80 Z" fill="#5ea2dc"/>
<line x1="325.40" y1="280.00" x2="404.00" y2="280.00" stroke="#86b8e4" stroke-width="1.8" />
<path d="M326.20,305.70 L326.20,305.39 L326.70,305.24 L327.20,305.03 L327.70,304.73 L328.20,304.03 L328.70,303.67 L329.20,303.26 L329.70,301.91 L330.20,300.67 L330.70,299.25 L331.20,297.68 L331.70,295.47 L332.20,293.31 L332.70,290.12 L333.20,287.14 L333.70,283.89 L334.20,280.40 L334.70,276.19 L335.20,272.38 L335.70,269.31 L336.20,265.55 L336.70,262.86 L337.20,260.62 L337.70,258.79 L338.20,257.49 L338.70,257.20 L339.20,258.38 L339.70,259.66 L340.20,262.47 L340.70,265.23 L341.20,269.15 L341.70,272.84 L342.20,276.95 L342.70,281.38 L343.20,285.04 L343.70,289.11 L344.20,292.52 L344.70,295.06 L345.20,297.82 L345.70,299.71 L346.20,301.18 L346.70,302.32 L347.20,303.55 L347.70,304.33 L348.20,304.36 L348.70,304.95 L349.20,305.21 L349.70,305.38 L349.70,305.70 Z" fill="#2b3f79" stroke="#9c1a4e" stroke-width="1.1" stroke-linejoin="round"/>
<rect x="325.40" y="226.70" width="78.60" height="79.00" fill="none" stroke="#111" stroke-width="1.7"/>
<line x1="331.32" y1="305.70" x2="331.32" y2="307.60" stroke="#111" stroke-width="0.8" />
<line x1="334.78" y1="305.70" x2="334.78" y2="307.60" stroke="#111" stroke-width="0.8" />
<line x1="337.23" y1="305.70" x2="337.23" y2="307.60" stroke="#111" stroke-width="0.8" />
<line x1="339.13" y1="305.70" x2="339.13" y2="307.60" stroke="#111" stroke-width="0.8" />
<line x1="340.69" y1="305.70" x2="340.69" y2="307.60" stroke="#111" stroke-width="0.8" />
<line x1="342.01" y1="305.70" x2="342.01" y2="307.60" stroke="#111" stroke-width="0.8" />
<line x1="343.15" y1="305.70" x2="343.15" y2="307.60" stroke="#111" stroke-width="0.8" />
<line x1="344.15" y1="305.70" x2="344.15" y2="307.60" stroke="#111" stroke-width="0.8" />
<line x1="350.97" y1="305.70" x2="350.97" y2="307.60" stroke="#111" stroke-width="0.8" />
<line x1="354.43" y1="305.70" x2="354.43" y2="307.60" stroke="#111" stroke-width="0.8" />
<line x1="356.88" y1="305.70" x2="356.88" y2="307.60" stroke="#111" stroke-width="0.8" />
<line x1="358.78" y1="305.70" x2="358.78" y2="307.60" stroke="#111" stroke-width="0.8" />
<line x1="360.34" y1="305.70" x2="360.34" y2="307.60" stroke="#111" stroke-width="0.8" />
<line x1="361.66" y1="305.70" x2="361.66" y2="307.60" stroke="#111" stroke-width="0.8" />
<line x1="362.80" y1="305.70" x2="362.80" y2="307.60" stroke="#111" stroke-width="0.8" />
<line x1="363.80" y1="305.70" x2="363.80" y2="307.60" stroke="#111" stroke-width="0.8" />
<line x1="370.62" y1="305.70" x2="370.62" y2="307.60" stroke="#111" stroke-width="0.8" />
<line x1="374.08" y1="305.70" x2="374.08" y2="307.60" stroke="#111" stroke-width="0.8" />
<line x1="376.53" y1="305.70" x2="376.53" y2="307.60" stroke="#111" stroke-width="0.8" />
<line x1="378.43" y1="305.70" x2="378.43" y2="307.60" stroke="#111" stroke-width="0.8" />
<line x1="379.99" y1="305.70" x2="379.99" y2="307.60" stroke="#111" stroke-width="0.8" />
<line x1="381.31" y1="305.70" x2="381.31" y2="307.60" stroke="#111" stroke-width="0.8" />
<line x1="382.45" y1="305.70" x2="382.45" y2="307.60" stroke="#111" stroke-width="0.8" />
<line x1="383.45" y1="305.70" x2="383.45" y2="307.60" stroke="#111" stroke-width="0.8" />
<line x1="390.27" y1="305.70" x2="390.27" y2="307.60" stroke="#111" stroke-width="0.8" />
<line x1="393.73" y1="305.70" x2="393.73" y2="307.60" stroke="#111" stroke-width="0.8" />
<line x1="396.18" y1="305.70" x2="396.18" y2="307.60" stroke="#111" stroke-width="0.8" />
<line x1="398.08" y1="305.70" x2="398.08" y2="307.60" stroke="#111" stroke-width="0.8" />
<line x1="399.64" y1="305.70" x2="399.64" y2="307.60" stroke="#111" stroke-width="0.8" />
<line x1="400.96" y1="305.70" x2="400.96" y2="307.60" stroke="#111" stroke-width="0.8" />
<line x1="402.10" y1="305.70" x2="402.10" y2="307.60" stroke="#111" stroke-width="0.8" />
<line x1="403.10" y1="305.70" x2="403.10" y2="307.60" stroke="#111" stroke-width="0.8" />
<line x1="325.40" y1="305.70" x2="325.40" y2="308.50" stroke="#111" stroke-width="1.1" />
<line x1="345.05" y1="305.70" x2="345.05" y2="308.50" stroke="#111" stroke-width="1.1" />
<line x1="364.70" y1="305.70" x2="364.70" y2="308.50" stroke="#111" stroke-width="1.1" />
<line x1="384.35" y1="305.70" x2="384.35" y2="308.50" stroke="#111" stroke-width="1.1" />
<line x1="404.00" y1="305.70" x2="404.00" y2="308.50" stroke="#111" stroke-width="1.1" />
<text x="366.70" y="222.30" font-size="9.2" text-anchor="middle" fill="#262626" >SU-DHL-6</text>
<text x="380.40" y="250.40" font-size="9.2" text-anchor="middle" fill="#262626" textLength="34.00" lengthAdjust="spacingAndGlyphs" >MFI 21.6</text>
<text x="380.40" y="294.30" font-size="9.2" text-anchor="middle" fill="#262626" textLength="33.00" lengthAdjust="spacingAndGlyphs" >MFI 6.03</text>
<text x="323.90" y="320.15" font-size="9.2" text-anchor="middle" fill="#262626" textLength="8.7" lengthAdjust="spacingAndGlyphs">10</text>
<text x="330.50" y="316.20" font-size="6.2" text-anchor="middle" fill="#262626">0</text>
<text x="343.55" y="320.15" font-size="9.2" text-anchor="middle" fill="#262626" textLength="8.7" lengthAdjust="spacingAndGlyphs">10</text>
<text x="350.15" y="316.20" font-size="6.2" text-anchor="middle" fill="#262626">1</text>
<text x="363.20" y="320.15" font-size="9.2" text-anchor="middle" fill="#262626" textLength="8.7" lengthAdjust="spacingAndGlyphs">10</text>
<text x="369.80" y="316.20" font-size="6.2" text-anchor="middle" fill="#262626">2</text>
<text x="382.85" y="320.15" font-size="9.2" text-anchor="middle" fill="#262626" textLength="8.7" lengthAdjust="spacingAndGlyphs">10</text>
<text x="389.45" y="316.20" font-size="6.2" text-anchor="middle" fill="#262626">3</text>
<text x="402.50" y="320.15" font-size="9.2" text-anchor="middle" fill="#262626" textLength="8.7" lengthAdjust="spacingAndGlyphs">10</text>
<text x="409.10" y="316.20" font-size="6.2" text-anchor="middle" fill="#262626">4</text>
<path d="M428.00,280.50 L428.00,279.70 L428.50,279.70 L429.00,279.70 L429.50,279.70 L430.00,279.70 L430.50,279.70 L431.00,279.70 L431.50,279.70 L432.00,279.70 L432.50,279.70 L433.00,279.70 L433.50,279.70 L434.00,279.70 L434.50,279.70 L435.00,279.70 L435.50,279.70 L436.00,279.70 L436.50,279.70 L437.00,279.70 L437.50,279.70 L438.00,279.70 L438.50,279.70 L439.00,279.70 L439.50,279.70 L440.00,279.70 L440.50,279.69 L441.00,279.69 L441.50,279.67 L442.00,279.63 L442.50,279.56 L443.00,279.43 L443.50,279.19 L444.00,278.80 L444.50,278.45 L445.00,276.62 L445.50,275.38 L446.00,274.31 L446.50,271.86 L447.00,268.90 L447.50,265.32 L448.00,261.54 L448.50,257.43 L449.00,253.05 L449.50,248.34 L450.00,244.91 L450.50,241.39 L451.00,237.87 L451.50,236.03 L452.00,234.04 L452.50,231.79 L453.00,231.63 L453.50,231.21 L454.00,231.84 L454.50,231.27 L455.00,231.19 L455.50,232.51 L456.00,232.76 L456.50,234.49 L457.00,237.76 L457.50,240.16 L458.00,244.20 L458.50,248.19 L459.00,253.20 L459.50,257.27 L460.00,261.57 L460.50,266.50 L461.00,269.80 L461.50,271.68 L462.00,273.40 L462.50,275.97 L463.00,276.80 L463.50,277.38 L464.00,278.29 L464.50,278.60 L465.00,278.95 L465.50,278.89 L466.00,279.06 L466.50,279.21 L467.00,279.32 L467.50,279.42 L468.00,279.50 L468.50,279.56 L469.00,279.60 L469.50,279.63 L470.00,279.66 L470.50,279.67 L471.00,279.68 L471.50,279.69 L472.00,279.69 L472.50,279.70 L473.00,279.70 L473.50,279.70 L474.00,279.70 L474.50,279.70 L475.00,279.70 L475.50,279.70 L476.00,279.70 L476.50,279.70 L477.00,279.70 L477.50,279.70 L478.00,279.70 L478.50,279.70 L479.00,279.70 L479.50,279.70 L480.00,279.70 L480.50,279.70 L481.00,279.70 L481.50,279.70 L482.00,279.70 L482.50,279.70 L483.00,279.70 L483.50,279.70 L484.00,279.70 L484.50,279.70 L485.00,279.70 L485.50,279.70 L486.00,279.70 L486.50,279.70 L487.00,279.70 L487.50,279.70 L488.00,279.70 L488.50,279.70 L489.00,279.70 L489.50,279.70 L490.00,279.70 L490.50,279.70 L491.00,279.70 L491.50,279.70 L492.00,279.70 L492.50,279.70 L493.00,279.70 L493.50,279.70 L494.00,279.70 L494.50,279.70 L495.00,279.70 L495.50,279.70 L496.00,279.70 L496.50,279.70 L497.00,279.70 L497.50,279.70 L498.00,279.70 L498.50,279.70 L499.00,279.70 L499.50,279.70 L500.00,279.70 L500.50,279.70 L501.00,279.70 L501.50,279.70 L502.00,279.70 L502.50,279.70 L503.00,279.70 L503.50,279.70 L504.00,279.70 L504.00,280.50 Z" fill="#5ea2dc"/>
<line x1="427.00" y1="279.70" x2="505.10" y2="279.70" stroke="#86b8e4" stroke-width="1.8" />
<path d="M427.80,305.00 L427.80,304.99 L428.30,304.99 L428.80,304.98 L429.30,304.97 L429.80,304.96 L430.30,304.93 L430.80,304.89 L431.30,304.83 L431.80,304.74 L432.30,304.62 L432.80,304.43 L433.30,304.18 L433.80,303.90 L434.30,303.29 L434.80,302.83 L435.30,301.96 L435.80,300.68 L436.30,299.81 L436.80,297.88 L437.30,295.84 L437.80,293.82 L438.30,291.25 L438.80,287.95 L439.30,285.04 L439.80,281.60 L440.30,277.82 L440.80,273.99 L441.30,270.75 L441.80,267.23 L442.30,264.18 L442.80,261.32 L443.30,259.58 L443.80,258.04 L444.30,257.91 L444.80,258.09 L445.30,259.07 L445.80,260.91 L446.30,263.88 L446.80,267.29 L447.30,271.03 L447.80,274.70 L448.30,278.88 L448.80,282.40 L449.30,286.07 L449.80,289.83 L450.30,292.78 L450.80,295.08 L451.30,297.38 L451.80,299.10 L452.30,300.84 L452.80,302.11 L453.30,302.90 L453.80,303.26 L454.30,304.06 L454.80,304.27 L455.30,304.52 L455.80,304.69 L455.80,305.00 Z" fill="#2b3f79" stroke="#9c1a4e" stroke-width="1.1" stroke-linejoin="round"/>
<rect x="427.00" y="226.00" width="78.10" height="79.00" fill="none" stroke="#111" stroke-width="1.7"/>
<line x1="432.88" y1="305.00" x2="432.88" y2="306.90" stroke="#111" stroke-width="0.8" />
<line x1="436.32" y1="305.00" x2="436.32" y2="306.90" stroke="#111" stroke-width="0.8" />
<line x1="438.76" y1="305.00" x2="438.76" y2="306.90" stroke="#111" stroke-width="0.8" />
<line x1="440.65" y1="305.00" x2="440.65" y2="306.90" stroke="#111" stroke-width="0.8" />
<line x1="442.19" y1="305.00" x2="442.19" y2="306.90" stroke="#111" stroke-width="0.8" />
<line x1="443.50" y1="305.00" x2="443.50" y2="306.90" stroke="#111" stroke-width="0.8" />
<line x1="444.63" y1="305.00" x2="444.63" y2="306.90" stroke="#111" stroke-width="0.8" />
<line x1="445.63" y1="305.00" x2="445.63" y2="306.90" stroke="#111" stroke-width="0.8" />
<line x1="452.40" y1="305.00" x2="452.40" y2="306.90" stroke="#111" stroke-width="0.8" />
<line x1="455.84" y1="305.00" x2="455.84" y2="306.90" stroke="#111" stroke-width="0.8" />
<line x1="458.28" y1="305.00" x2="458.28" y2="306.90" stroke="#111" stroke-width="0.8" />
<line x1="460.17" y1="305.00" x2="460.17" y2="306.90" stroke="#111" stroke-width="0.8" />
<line x1="461.72" y1="305.00" x2="461.72" y2="306.90" stroke="#111" stroke-width="0.8" />
<line x1="463.03" y1="305.00" x2="463.03" y2="306.90" stroke="#111" stroke-width="0.8" />
<line x1="464.16" y1="305.00" x2="464.16" y2="306.90" stroke="#111" stroke-width="0.8" />
<line x1="465.16" y1="305.00" x2="465.16" y2="306.90" stroke="#111" stroke-width="0.8" />
<line x1="471.93" y1="305.00" x2="471.93" y2="306.90" stroke="#111" stroke-width="0.8" />
<line x1="475.37" y1="305.00" x2="475.37" y2="306.90" stroke="#111" stroke-width="0.8" />
<line x1="477.81" y1="305.00" x2="477.81" y2="306.90" stroke="#111" stroke-width="0.8" />
<line x1="479.70" y1="305.00" x2="479.70" y2="306.90" stroke="#111" stroke-width="0.8" />
<line x1="481.24" y1="305.00" x2="481.24" y2="306.90" stroke="#111" stroke-width="0.8" />
<line x1="482.55" y1="305.00" x2="482.55" y2="306.90" stroke="#111" stroke-width="0.8" />
<line x1="483.68" y1="305.00" x2="483.68" y2="306.90" stroke="#111" stroke-width="0.8" />
<line x1="484.68" y1="305.00" x2="484.68" y2="306.90" stroke="#111" stroke-width="0.8" />
<line x1="491.45" y1="305.00" x2="491.45" y2="306.90" stroke="#111" stroke-width="0.8" />
<line x1="494.89" y1="305.00" x2="494.89" y2="306.90" stroke="#111" stroke-width="0.8" />
<line x1="497.33" y1="305.00" x2="497.33" y2="306.90" stroke="#111" stroke-width="0.8" />
<line x1="499.22" y1="305.00" x2="499.22" y2="306.90" stroke="#111" stroke-width="0.8" />
<line x1="500.77" y1="305.00" x2="500.77" y2="306.90" stroke="#111" stroke-width="0.8" />
<line x1="502.08" y1="305.00" x2="502.08" y2="306.90" stroke="#111" stroke-width="0.8" />
<line x1="503.21" y1="305.00" x2="503.21" y2="306.90" stroke="#111" stroke-width="0.8" />
<line x1="504.21" y1="305.00" x2="504.21" y2="306.90" stroke="#111" stroke-width="0.8" />
<line x1="427.00" y1="305.00" x2="427.00" y2="307.80" stroke="#111" stroke-width="1.1" />
<line x1="446.52" y1="305.00" x2="446.52" y2="307.80" stroke="#111" stroke-width="1.1" />
<line x1="466.05" y1="305.00" x2="466.05" y2="307.80" stroke="#111" stroke-width="1.1" />
<line x1="485.58" y1="305.00" x2="485.58" y2="307.80" stroke="#111" stroke-width="1.1" />
<line x1="505.10" y1="305.00" x2="505.10" y2="307.80" stroke="#111" stroke-width="1.1" />
<text x="467.00" y="221.60" font-size="9.2" text-anchor="middle" fill="#262626" >Oci-Ly10</text>
<text x="482.50" y="251.00" font-size="9.2" text-anchor="middle" fill="#262626" textLength="34.00" lengthAdjust="spacingAndGlyphs" >MFI 28.5</text>
<text x="482.50" y="292.80" font-size="9.2" text-anchor="middle" fill="#262626" textLength="33.00" lengthAdjust="spacingAndGlyphs" >MFI 10.8</text>
<text x="425.50" y="319.45" font-size="9.2" text-anchor="middle" fill="#262626" textLength="8.7" lengthAdjust="spacingAndGlyphs">10</text>
<text x="432.10" y="315.50" font-size="6.2" text-anchor="middle" fill="#262626">0</text>
<text x="445.02" y="319.45" font-size="9.2" text-anchor="middle" fill="#262626" textLength="8.7" lengthAdjust="spacingAndGlyphs">10</text>
<text x="451.62" y="315.50" font-size="6.2" text-anchor="middle" fill="#262626">1</text>
<text x="464.55" y="319.45" font-size="9.2" text-anchor="middle" fill="#262626" textLength="8.7" lengthAdjust="spacingAndGlyphs">10</text>
<text x="471.15" y="315.50" font-size="6.2" text-anchor="middle" fill="#262626">2</text>
<text x="484.08" y="319.45" font-size="9.2" text-anchor="middle" fill="#262626" textLength="8.7" lengthAdjust="spacingAndGlyphs">10</text>
<text x="490.68" y="315.50" font-size="6.2" text-anchor="middle" fill="#262626">3</text>
<text x="503.60" y="319.45" font-size="9.2" text-anchor="middle" fill="#262626" textLength="8.7" lengthAdjust="spacingAndGlyphs">10</text>
<text x="510.20" y="315.50" font-size="6.2" text-anchor="middle" fill="#262626">4</text>
<path d="M328.80,394.70 L328.80,393.90 L329.30,393.90 L329.80,393.90 L330.30,393.90 L330.80,393.90 L331.30,393.90 L331.80,393.89 L332.30,393.89 L332.80,393.87 L333.30,393.86 L333.80,393.82 L334.30,393.77 L334.80,393.68 L335.30,393.55 L335.80,393.35 L336.30,393.06 L336.80,392.85 L337.30,392.17 L337.80,391.36 L338.30,390.31 L338.80,388.22 L339.30,387.57 L339.80,385.66 L340.30,381.82 L340.80,378.98 L341.30,375.52 L341.80,372.68 L342.30,368.11 L342.80,364.18 L343.30,361.24 L343.80,356.74 L344.30,353.17 L344.80,350.41 L345.30,348.17 L345.80,346.67 L346.30,345.43 L346.80,345.05 L347.30,345.19 L347.80,344.79 L348.30,346.02 L348.80,346.61 L349.30,349.49 L349.80,350.55 L350.30,353.50 L350.80,356.13 L351.30,359.33 L351.80,362.60 L352.30,366.35 L352.80,370.37 L353.30,372.43 L353.80,376.12 L354.30,378.58 L354.80,380.45 L355.30,382.74 L355.80,384.72 L356.30,385.56 L356.80,387.35 L357.30,388.85 L357.80,389.91 L358.30,389.84 L358.80,391.02 L359.30,391.13 L359.80,392.18 L360.30,392.77 L360.80,392.60 L361.30,392.90 L361.80,393.11 L362.30,393.28 L362.80,393.42 L363.30,393.53 L363.80,393.62 L364.30,393.69 L364.80,393.75 L365.30,393.79 L365.80,393.82 L366.30,393.84 L366.80,393.86 L367.30,393.87 L367.80,393.88 L368.30,393.89 L368.80,393.89 L369.30,393.89 L369.80,393.90 L370.30,393.90 L370.80,393.90 L371.30,393.90 L371.80,393.90 L372.30,393.90 L372.80,393.90 L373.30,393.90 L373.80,393.90 L374.30,393.90 L374.80,393.90 L375.30,393.90 L375.80,393.90 L376.30,393.90 L376.80,393.90 L377.30,393.90 L377.80,393.90 L378.30,393.90 L378.80,393.90 L379.30,393.90 L379.80,393.90 L380.30,393.90 L380.80,393.90 L381.30,393.90 L381.80,393.90 L382.30,393.90 L382.80,393.90 L383.30,393.90 L383.80,393.90 L384.30,393.90 L384.80,393.90 L385.30,393.90 L385.80,393.90 L386.30,393.90 L386.80,393.90 L387.30,393.90 L387.80,393.90 L388.30,393.90 L388.80,393.90 L389.30,393.90 L389.80,393.90 L390.30,393.90 L390.80,393.90 L391.30,393.90 L391.80,393.90 L392.30,393.90 L392.80,393.90 L393.30,393.90 L393.80,393.90 L394.30,393.90 L394.80,393.90 L395.30,393.90 L395.80,393.90 L396.30,393.90 L396.80,393.90 L397.30,393.90 L397.80,393.90 L398.30,393.90 L398.80,393.90 L399.30,393.90 L399.80,393.90 L400.30,393.90 L400.80,393.90 L401.30,393.90 L401.80,393.90 L402.30,393.90 L402.80,393.90 L403.30,393.90 L403.80,393.90 L404.30,393.90 L404.80,393.90 L405.30,393.90 L405.30,394.70 Z" fill="#5ea2dc"/>
<line x1="327.80" y1="393.90" x2="406.30" y2="393.90" stroke="#86b8e4" stroke-width="1.8" />
<path d="M328.60,419.50 L328.60,418.93 L329.10,418.65 L329.60,418.06 L330.10,417.90 L330.60,416.79 L331.10,415.74 L331.60,414.54 L332.10,412.95 L332.60,411.48 L333.10,408.76 L333.60,405.86 L334.10,403.21 L334.60,399.59 L335.10,395.84 L335.60,391.77 L336.10,387.89 L336.60,384.04 L337.10,380.34 L337.60,377.76 L338.10,375.31 L338.60,373.60 L339.10,372.80 L339.60,372.89 L340.10,373.15 L340.60,374.71 L341.10,377.27 L341.60,379.66 L342.10,382.82 L342.60,386.17 L343.10,389.66 L343.60,393.04 L344.10,396.57 L344.60,400.05 L345.10,403.26 L345.60,406.01 L346.10,408.65 L346.60,410.58 L347.10,412.35 L347.60,414.11 L348.10,415.57 L348.60,416.54 L349.10,417.24 L349.60,417.73 L350.10,418.10 L350.60,418.63 L351.10,418.89 L351.60,419.08 L352.10,419.22 L352.10,419.50 Z" fill="#2b3f79" stroke="#9c1a4e" stroke-width="1.1" stroke-linejoin="round"/>
<rect x="327.80" y="341.40" width="78.50" height="78.10" fill="none" stroke="#111" stroke-width="1.7"/>
<line x1="333.71" y1="419.50" x2="333.71" y2="421.40" stroke="#111" stroke-width="0.8" />
<line x1="337.16" y1="419.50" x2="337.16" y2="421.40" stroke="#111" stroke-width="0.8" />
<line x1="339.62" y1="419.50" x2="339.62" y2="421.40" stroke="#111" stroke-width="0.8" />
<line x1="341.52" y1="419.50" x2="341.52" y2="421.40" stroke="#111" stroke-width="0.8" />
<line x1="343.07" y1="419.50" x2="343.07" y2="421.40" stroke="#111" stroke-width="0.8" />
<line x1="344.39" y1="419.50" x2="344.39" y2="421.40" stroke="#111" stroke-width="0.8" />
<line x1="345.52" y1="419.50" x2="345.52" y2="421.40" stroke="#111" stroke-width="0.8" />
<line x1="346.53" y1="419.50" x2="346.53" y2="421.40" stroke="#111" stroke-width="0.8" />
<line x1="353.33" y1="419.50" x2="353.33" y2="421.40" stroke="#111" stroke-width="0.8" />
<line x1="356.79" y1="419.50" x2="356.79" y2="421.40" stroke="#111" stroke-width="0.8" />
<line x1="359.24" y1="419.50" x2="359.24" y2="421.40" stroke="#111" stroke-width="0.8" />
<line x1="361.14" y1="419.50" x2="361.14" y2="421.40" stroke="#111" stroke-width="0.8" />
<line x1="362.70" y1="419.50" x2="362.70" y2="421.40" stroke="#111" stroke-width="0.8" />
<line x1="364.01" y1="419.50" x2="364.01" y2="421.40" stroke="#111" stroke-width="0.8" />
<line x1="365.15" y1="419.50" x2="365.15" y2="421.40" stroke="#111" stroke-width="0.8" />
<line x1="366.15" y1="419.50" x2="366.15" y2="421.40" stroke="#111" stroke-width="0.8" />
<line x1="372.96" y1="419.50" x2="372.96" y2="421.40" stroke="#111" stroke-width="0.8" />
<line x1="376.41" y1="419.50" x2="376.41" y2="421.40" stroke="#111" stroke-width="0.8" />
<line x1="378.87" y1="419.50" x2="378.87" y2="421.40" stroke="#111" stroke-width="0.8" />
<line x1="380.77" y1="419.50" x2="380.77" y2="421.40" stroke="#111" stroke-width="0.8" />
<line x1="382.32" y1="419.50" x2="382.32" y2="421.40" stroke="#111" stroke-width="0.8" />
<line x1="383.64" y1="419.50" x2="383.64" y2="421.40" stroke="#111" stroke-width="0.8" />
<line x1="384.77" y1="419.50" x2="384.77" y2="421.40" stroke="#111" stroke-width="0.8" />
<line x1="385.78" y1="419.50" x2="385.78" y2="421.40" stroke="#111" stroke-width="0.8" />
<line x1="392.58" y1="419.50" x2="392.58" y2="421.40" stroke="#111" stroke-width="0.8" />
<line x1="396.04" y1="419.50" x2="396.04" y2="421.40" stroke="#111" stroke-width="0.8" />
<line x1="398.49" y1="419.50" x2="398.49" y2="421.40" stroke="#111" stroke-width="0.8" />
<line x1="400.39" y1="419.50" x2="400.39" y2="421.40" stroke="#111" stroke-width="0.8" />
<line x1="401.95" y1="419.50" x2="401.95" y2="421.40" stroke="#111" stroke-width="0.8" />
<line x1="403.26" y1="419.50" x2="403.26" y2="421.40" stroke="#111" stroke-width="0.8" />
<line x1="404.40" y1="419.50" x2="404.40" y2="421.40" stroke="#111" stroke-width="0.8" />
<line x1="405.40" y1="419.50" x2="405.40" y2="421.40" stroke="#111" stroke-width="0.8" />
<line x1="327.80" y1="419.50" x2="327.80" y2="422.30" stroke="#111" stroke-width="1.1" />
<line x1="347.43" y1="419.50" x2="347.43" y2="422.30" stroke="#111" stroke-width="1.1" />
<line x1="367.05" y1="419.50" x2="367.05" y2="422.30" stroke="#111" stroke-width="1.1" />
<line x1="386.68" y1="419.50" x2="386.68" y2="422.30" stroke="#111" stroke-width="1.1" />
<line x1="406.30" y1="419.50" x2="406.30" y2="422.30" stroke="#111" stroke-width="1.1" />
<text x="367.05" y="337.00" font-size="9.2" text-anchor="middle" fill="#262626" >RC-K8</text>
<text x="383.50" y="364.80" font-size="9.2" text-anchor="middle" fill="#262626" textLength="34.00" lengthAdjust="spacingAndGlyphs" >MFI 10.8</text>
<text x="383.50" y="406.30" font-size="9.2" text-anchor="middle" fill="#262626" textLength="33.00" lengthAdjust="spacingAndGlyphs" >MFI 5.35</text>
<text x="326.30" y="433.95" font-size="9.2" text-anchor="middle" fill="#262626" textLength="8.7" lengthAdjust="spacingAndGlyphs">10</text>
<text x="332.90" y="430.00" font-size="6.2" text-anchor="middle" fill="#262626">0</text>
<text x="345.93" y="433.95" font-size="9.2" text-anchor="middle" fill="#262626" textLength="8.7" lengthAdjust="spacingAndGlyphs">10</text>
<text x="352.52" y="430.00" font-size="6.2" text-anchor="middle" fill="#262626">1</text>
<text x="365.55" y="433.95" font-size="9.2" text-anchor="middle" fill="#262626" textLength="8.7" lengthAdjust="spacingAndGlyphs">10</text>
<text x="372.15" y="430.00" font-size="6.2" text-anchor="middle" fill="#262626">2</text>
<text x="385.18" y="433.95" font-size="9.2" text-anchor="middle" fill="#262626" textLength="8.7" lengthAdjust="spacingAndGlyphs">10</text>
<text x="391.77" y="430.00" font-size="6.2" text-anchor="middle" fill="#262626">3</text>
<text x="404.80" y="433.95" font-size="9.2" text-anchor="middle" fill="#262626" textLength="8.7" lengthAdjust="spacingAndGlyphs">10</text>
<text x="411.40" y="430.00" font-size="6.2" text-anchor="middle" fill="#262626">4</text>
<path d="M449.50,395.20 L449.50,394.40 L450.50,388.00 L452.00,372.00 L454.00,356.00 L455.50,348.50 L457.00,346.60 L458.50,347.00 L459.50,350.00 L461.00,360.00 L462.50,372.00 L464.00,379.00 L466.00,381.50 L468.00,384.00 L469.50,388.00 L471.00,391.50 L474.00,393.40 L480.00,394.00 L480.00,395.20 Z" fill="#5ea2dc"/>
<line x1="427.30" y1="394.40" x2="505.00" y2="394.40" stroke="#86b8e4" stroke-width="1.8" />
<path d="M428.10,420.50 L428.10,420.50 L428.60,420.50 L429.10,420.50 L429.60,420.50 L430.10,420.50 L430.60,420.50 L431.10,420.50 L431.60,420.50 L432.10,420.50 L432.60,420.50 L433.10,420.50 L433.60,420.50 L434.10,420.50 L434.60,420.50 L435.10,420.50 L435.60,420.50 L436.10,420.50 L436.60,420.49 L437.10,420.48 L437.60,420.46 L438.10,420.40 L438.60,420.30 L439.10,420.10 L439.60,419.73 L440.10,419.16 L440.60,417.87 L441.10,416.37 L441.60,414.13 L442.10,410.90 L442.60,406.58 L443.10,401.27 L443.60,395.53 L444.10,389.14 L444.60,383.31 L445.10,378.38 L445.60,374.66 L446.10,373.03 L446.60,374.01 L447.10,376.36 L447.60,380.56 L448.10,385.62 L448.60,391.49 L449.10,397.73 L449.60,402.88 L450.10,407.67 L450.60,411.81 L451.10,414.62 L451.60,416.95 L452.10,418.00 L452.60,419.05 L453.10,419.74 L453.60,420.09 L454.10,420.29 L454.10,420.50 Z" fill="#2b3f79" stroke="#9c1a4e" stroke-width="1.1" stroke-linejoin="round"/>
<rect x="427.30" y="341.40" width="77.70" height="79.10" fill="none" stroke="#111" stroke-width="1.7"/>
<line x1="433.15" y1="420.50" x2="433.15" y2="422.40" stroke="#111" stroke-width="0.8" />
<line x1="436.57" y1="420.50" x2="436.57" y2="422.40" stroke="#111" stroke-width="0.8" />
<line x1="439.00" y1="420.50" x2="439.00" y2="422.40" stroke="#111" stroke-width="0.8" />
<line x1="440.88" y1="420.50" x2="440.88" y2="422.40" stroke="#111" stroke-width="0.8" />
<line x1="442.42" y1="420.50" x2="442.42" y2="422.40" stroke="#111" stroke-width="0.8" />
<line x1="443.72" y1="420.50" x2="443.72" y2="422.40" stroke="#111" stroke-width="0.8" />
<line x1="444.84" y1="420.50" x2="444.84" y2="422.40" stroke="#111" stroke-width="0.8" />
<line x1="445.84" y1="420.50" x2="445.84" y2="422.40" stroke="#111" stroke-width="0.8" />
<line x1="452.57" y1="420.50" x2="452.57" y2="422.40" stroke="#111" stroke-width="0.8" />
<line x1="455.99" y1="420.50" x2="455.99" y2="422.40" stroke="#111" stroke-width="0.8" />
<line x1="458.42" y1="420.50" x2="458.42" y2="422.40" stroke="#111" stroke-width="0.8" />
<line x1="460.30" y1="420.50" x2="460.30" y2="422.40" stroke="#111" stroke-width="0.8" />
<line x1="461.84" y1="420.50" x2="461.84" y2="422.40" stroke="#111" stroke-width="0.8" />
<line x1="463.14" y1="420.50" x2="463.14" y2="422.40" stroke="#111" stroke-width="0.8" />
<line x1="464.27" y1="420.50" x2="464.27" y2="422.40" stroke="#111" stroke-width="0.8" />
<line x1="465.26" y1="420.50" x2="465.26" y2="422.40" stroke="#111" stroke-width="0.8" />
<line x1="472.00" y1="420.50" x2="472.00" y2="422.40" stroke="#111" stroke-width="0.8" />
<line x1="475.42" y1="420.50" x2="475.42" y2="422.40" stroke="#111" stroke-width="0.8" />
<line x1="477.85" y1="420.50" x2="477.85" y2="422.40" stroke="#111" stroke-width="0.8" />
<line x1="479.73" y1="420.50" x2="479.73" y2="422.40" stroke="#111" stroke-width="0.8" />
<line x1="481.27" y1="420.50" x2="481.27" y2="422.40" stroke="#111" stroke-width="0.8" />
<line x1="482.57" y1="420.50" x2="482.57" y2="422.40" stroke="#111" stroke-width="0.8" />
<line x1="483.69" y1="420.50" x2="483.69" y2="422.40" stroke="#111" stroke-width="0.8" />
<line x1="484.69" y1="420.50" x2="484.69" y2="422.40" stroke="#111" stroke-width="0.8" />
<line x1="491.42" y1="420.50" x2="491.42" y2="422.40" stroke="#111" stroke-width="0.8" />
<line x1="494.84" y1="420.50" x2="494.84" y2="422.40" stroke="#111" stroke-width="0.8" />
<line x1="497.27" y1="420.50" x2="497.27" y2="422.40" stroke="#111" stroke-width="0.8" />
<line x1="499.15" y1="420.50" x2="499.15" y2="422.40" stroke="#111" stroke-width="0.8" />
<line x1="500.69" y1="420.50" x2="500.69" y2="422.40" stroke="#111" stroke-width="0.8" />
<line x1="501.99" y1="420.50" x2="501.99" y2="422.40" stroke="#111" stroke-width="0.8" />
<line x1="503.12" y1="420.50" x2="503.12" y2="422.40" stroke="#111" stroke-width="0.8" />
<line x1="504.11" y1="420.50" x2="504.11" y2="422.40" stroke="#111" stroke-width="0.8" />
<line x1="427.30" y1="420.50" x2="427.30" y2="423.30" stroke="#111" stroke-width="1.1" />
<line x1="446.73" y1="420.50" x2="446.73" y2="423.30" stroke="#111" stroke-width="1.1" />
<line x1="466.15" y1="420.50" x2="466.15" y2="423.30" stroke="#111" stroke-width="1.1" />
<line x1="485.57" y1="420.50" x2="485.57" y2="423.30" stroke="#111" stroke-width="1.1" />
<line x1="505.00" y1="420.50" x2="505.00" y2="423.30" stroke="#111" stroke-width="1.1" />
<text x="466.15" y="337.00" font-size="9.2" text-anchor="middle" fill="#262626" >Oci-Ly3</text>
<text x="485.20" y="364.30" font-size="9.2" text-anchor="middle" fill="#262626" textLength="34.00" lengthAdjust="spacingAndGlyphs" >MFI 61.1</text>
<text x="485.20" y="406.30" font-size="9.2" text-anchor="middle" fill="#262626" textLength="33.00" lengthAdjust="spacingAndGlyphs" >MFI 31.1</text>
<text x="425.80" y="434.95" font-size="9.2" text-anchor="middle" fill="#262626" textLength="8.7" lengthAdjust="spacingAndGlyphs">10</text>
<text x="432.40" y="431.00" font-size="6.2" text-anchor="middle" fill="#262626">0</text>
<text x="445.23" y="434.95" font-size="9.2" text-anchor="middle" fill="#262626" textLength="8.7" lengthAdjust="spacingAndGlyphs">10</text>
<text x="451.82" y="431.00" font-size="6.2" text-anchor="middle" fill="#262626">1</text>
<text x="464.65" y="434.95" font-size="9.2" text-anchor="middle" fill="#262626" textLength="8.7" lengthAdjust="spacingAndGlyphs">10</text>
<text x="471.25" y="431.00" font-size="6.2" text-anchor="middle" fill="#262626">2</text>
<text x="484.07" y="434.95" font-size="9.2" text-anchor="middle" fill="#262626" textLength="8.7" lengthAdjust="spacingAndGlyphs">10</text>
<text x="490.67" y="431.00" font-size="6.2" text-anchor="middle" fill="#262626">3</text>
<text x="503.50" y="434.95" font-size="9.2" text-anchor="middle" fill="#262626" textLength="8.7" lengthAdjust="spacingAndGlyphs">10</text>
<text x="510.10" y="431.00" font-size="6.2" text-anchor="middle" fill="#262626">4</text>
<path d="M462.00,420.50 L462.00,420.33 L462.50,420.21 L463.00,420.02 L463.50,419.74 L464.00,419.36 L464.50,418.85 L465.00,418.24 L465.50,417.54 L466.00,416.81 L466.50,416.10 L467.00,415.51 L467.50,415.09 L468.00,414.91 L468.50,414.98 L469.00,415.31 L469.50,415.85 L470.00,416.52 L470.50,417.25 L471.00,417.97 L471.50,418.62 L472.00,419.17 L472.50,419.60 L473.00,419.92 L473.50,420.14 L474.00,420.29 L474.00,420.50 Z" fill="#2b3f79" stroke="#9c1a4e" stroke-width="1.1" stroke-linejoin="round"/>
<rect x="427.3" y="341.4" width="77.7" height="79.1" fill="none" stroke="#111" stroke-width="1.7"/>
<text x="0" y="0" font-size="10.6" text-anchor="middle" fill="#262626" transform="translate(316.70,255.60) rotate(-90)" textLength="31" lengthAdjust="spacingAndGlyphs">TGFβR2</text>
<text x="0" y="0" font-size="10.6" text-anchor="middle" fill="#262626" transform="translate(316.70,293.80) rotate(-90)" textLength="28.8" lengthAdjust="spacingAndGlyphs">IgG CTR</text>
<text x="0" y="0" font-size="10.6" text-anchor="middle" fill="#262626" transform="translate(319.70,361.60) rotate(-90)" textLength="31" lengthAdjust="spacingAndGlyphs">TGFβR2</text>
<text x="0" y="0" font-size="10.6" text-anchor="middle" fill="#262626" transform="translate(319.70,400.30) rotate(-90)" textLength="28.8" lengthAdjust="spacingAndGlyphs">IgG CTR</text>
<text x="12.40" y="496.35" font-size="13.4" text-anchor="middle" font-weight="bold" fill="#000" textLength="7.40" lengthAdjust="spacingAndGlyphs" stroke="#000" stroke-width="0.35">E</text>
<line x1="56.20" y1="569.93" x2="149.90" y2="569.93" stroke="#333" stroke-width="1.1" stroke-dasharray="1.2,1.6"/>
<rect x="57.10" y="575.37" width="6.80" height="2.33" fill="#aaa3c6" />
<line x1="60.50" y1="575.37" x2="60.50" y2="569.93" stroke="#aaa3c6" stroke-width="1.2" />
<line x1="57.50" y1="569.93" x2="63.50" y2="569.93" stroke="#aaa3c6" stroke-width="1.3" />
<rect x="66.25" y="565.65" width="6.80" height="12.05" fill="#2c4a83" />
<rect x="75.40" y="564.48" width="6.80" height="13.22" fill="#4c1f5d" />
<line x1="78.80" y1="564.48" x2="78.80" y2="549.32" stroke="#4c1f5d" stroke-width="1.2" />
<line x1="75.80" y1="549.32" x2="81.80" y2="549.32" stroke="#4c1f5d" stroke-width="1.3" />
<rect x="84.55" y="569.15" width="6.80" height="8.55" fill="#a48cb1" />
<line x1="87.95" y1="569.15" x2="87.95" y2="566.04" stroke="#a48cb1" stroke-width="1.2" />
<line x1="84.95" y1="566.04" x2="90.95" y2="566.04" stroke="#a48cb1" stroke-width="1.3" />
<rect x="93.70" y="569.54" width="6.80" height="8.16" fill="#6eade2" />
<line x1="97.10" y1="569.54" x2="97.10" y2="566.43" stroke="#6eade2" stroke-width="1.2" />
<line x1="94.10" y1="566.43" x2="100.10" y2="566.43" stroke="#6eade2" stroke-width="1.3" />
<rect x="105.60" y="576.53" width="6.80" height="1.17" fill="#aaa3c6" />
<rect x="114.75" y="557.10" width="6.80" height="20.60" fill="#2c4a83" />
<line x1="118.15" y1="557.10" x2="118.15" y2="536.49" stroke="#2c4a83" stroke-width="1.2" />
<line x1="115.15" y1="536.49" x2="121.15" y2="536.49" stroke="#2c4a83" stroke-width="1.3" />
<rect x="123.90" y="557.87" width="6.80" height="19.83" fill="#4c1f5d" />
<line x1="127.30" y1="557.87" x2="127.30" y2="533.38" stroke="#4c1f5d" stroke-width="1.2" />
<line x1="124.30" y1="533.38" x2="130.30" y2="533.38" stroke="#4c1f5d" stroke-width="1.3" />
<rect x="133.05" y="553.21" width="6.80" height="24.49" fill="#a48cb1" />
<line x1="136.45" y1="553.21" x2="136.45" y2="548.54" stroke="#a48cb1" stroke-width="1.2" />
<line x1="133.45" y1="548.54" x2="139.45" y2="548.54" stroke="#a48cb1" stroke-width="1.3" />
<rect x="142.20" y="570.70" width="6.80" height="7.00" fill="#6eade2" />
<line x1="145.60" y1="570.70" x2="145.60" y2="564.48" stroke="#6eade2" stroke-width="1.2" />
<line x1="142.60" y1="564.48" x2="148.60" y2="564.48" stroke="#6eade2" stroke-width="1.3" />
<line x1="103.05" y1="513.70" x2="103.05" y2="577.70" stroke="#333" stroke-width="1.1" stroke-dasharray="1.2,1.6"/>
<line x1="56.20" y1="512.20" x2="56.20" y2="578.40" stroke="#111" stroke-width="1.6" />
<line x1="55.40" y1="577.70" x2="149.90" y2="577.70" stroke="#111" stroke-width="1.6" />
<line x1="52.40" y1="577.70" x2="56.20" y2="577.70" stroke="#111" stroke-width="1.3" />
<text x="48.90" y="581.00" font-size="9.2" text-anchor="end" fill="#262626" >0</text>
<line x1="52.40" y1="562.15" x2="56.20" y2="562.15" stroke="#111" stroke-width="1.3" />
<text x="48.90" y="565.45" font-size="9.2" text-anchor="end" fill="#262626" >2</text>
<line x1="52.40" y1="546.60" x2="56.20" y2="546.60" stroke="#111" stroke-width="1.3" />
<text x="48.90" y="549.90" font-size="9.2" text-anchor="end" fill="#262626" >4</text>
<line x1="52.40" y1="531.05" x2="56.20" y2="531.05" stroke="#111" stroke-width="1.3" />
<text x="48.90" y="534.35" font-size="9.2" text-anchor="end" fill="#262626" >6</text>
<line x1="52.40" y1="515.50" x2="56.20" y2="515.50" stroke="#111" stroke-width="1.3" />
<text x="48.90" y="518.80" font-size="9.2" text-anchor="end" fill="#262626" >8</text>
<line x1="60.50" y1="577.70" x2="60.50" y2="580.70" stroke="#111" stroke-width="1.2" />
<text x="0" y="0" font-size="9.4" text-anchor="end" fill="#262626" transform="translate(63.40,584.80) rotate(-90)" textLength="66" lengthAdjust="spacingAndGlyphs">negative control</text>
<line x1="69.65" y1="577.70" x2="69.65" y2="580.70" stroke="#111" stroke-width="1.2" />
<text x="0" y="0" font-size="9.4" text-anchor="end" fill="#262626" transform="translate(72.55,584.80) rotate(-90)" textLength="35.5" lengthAdjust="spacingAndGlyphs">CDKN1A</text>
<line x1="78.80" y1="577.70" x2="78.80" y2="580.70" stroke="#111" stroke-width="1.2" />
<text x="0" y="0" font-size="9.4" text-anchor="end" fill="#262626" transform="translate(81.70,584.80) rotate(-90)" textLength="13.3" lengthAdjust="spacingAndGlyphs">ID1</text>
<line x1="87.95" y1="577.70" x2="87.95" y2="580.70" stroke="#111" stroke-width="1.2" />
<text x="0" y="0" font-size="9.4" text-anchor="end" fill="#262626" transform="translate(90.85,584.80) rotate(-90)" textLength="33.6" lengthAdjust="spacingAndGlyphs">S1PR2 G</text>
<line x1="97.10" y1="577.70" x2="97.10" y2="580.70" stroke="#111" stroke-width="1.2" />
<text x="0" y="0" font-size="9.4" text-anchor="end" fill="#262626" transform="translate(100.00,584.80) rotate(-90)" textLength="33.6" lengthAdjust="spacingAndGlyphs">S1PR2 H</text>
<line x1="109.00" y1="577.70" x2="109.00" y2="580.70" stroke="#111" stroke-width="1.2" />
<text x="0" y="0" font-size="9.4" text-anchor="end" fill="#262626" transform="translate(111.90,584.80) rotate(-90)" textLength="66" lengthAdjust="spacingAndGlyphs">negative control</text>
<line x1="118.15" y1="577.70" x2="118.15" y2="580.70" stroke="#111" stroke-width="1.2" />
<text x="0" y="0" font-size="9.4" text-anchor="end" fill="#262626" transform="translate(121.05,584.80) rotate(-90)" textLength="35.5" lengthAdjust="spacingAndGlyphs">CDKN1A</text>
<line x1="127.30" y1="577.70" x2="127.30" y2="580.70" stroke="#111" stroke-width="1.2" />
<text x="0" y="0" font-size="9.4" text-anchor="end" fill="#262626" transform="translate(130.20,584.80) rotate(-90)" textLength="13.3" lengthAdjust="spacingAndGlyphs">ID1</text>
<line x1="136.45" y1="577.70" x2="136.45" y2="580.70" stroke="#111" stroke-width="1.2" />
<text x="0" y="0" font-size="9.4" text-anchor="end" fill="#262626" transform="translate(139.35,584.80) rotate(-90)" textLength="33.6" lengthAdjust="spacingAndGlyphs">S1PR2 G</text>
<line x1="145.60" y1="577.70" x2="145.60" y2="580.70" stroke="#111" stroke-width="1.2" />
<text x="0" y="0" font-size="9.4" text-anchor="end" fill="#262626" transform="translate(148.50,584.80) rotate(-90)" textLength="33.6" lengthAdjust="spacingAndGlyphs">S1PR2 H</text>
<text x="103.30" y="505.80" font-size="9.2" text-anchor="middle" fill="#262626" >SU-DHL-6</text>
<line x1="59.00" y1="655.50" x2="99.90" y2="655.50" stroke="#111" stroke-width="1.3" />
<line x1="104.20" y1="655.50" x2="145.30" y2="655.50" stroke="#111" stroke-width="1.3" />
<text x="79.45" y="667.30" font-size="9" text-anchor="middle" fill="#262626" >-</text>
<text x="124.75" y="667.30" font-size="9" text-anchor="middle" fill="#262626" >+</text>
<line x1="169.90" y1="569.80" x2="262.90" y2="569.80" stroke="#333" stroke-width="1.1" stroke-dasharray="1.2,1.6"/>
<rect x="170.80" y="570.19" width="6.80" height="7.41" fill="#aaa3c6" />
<rect x="179.80" y="573.31" width="6.80" height="4.29" fill="#2c4a83" />
<line x1="183.20" y1="573.31" x2="183.20" y2="570.97" stroke="#2c4a83" stroke-width="1.2" />
<line x1="180.20" y1="570.97" x2="186.20" y2="570.97" stroke="#2c4a83" stroke-width="1.3" />
<rect x="188.80" y="575.26" width="6.80" height="2.34" fill="#4c1f5d" />
<line x1="192.20" y1="575.26" x2="192.20" y2="573.31" stroke="#4c1f5d" stroke-width="1.2" />
<line x1="189.20" y1="573.31" x2="195.20" y2="573.31" stroke="#4c1f5d" stroke-width="1.3" />
<rect x="197.80" y="559.66" width="6.80" height="17.94" fill="#a48cb1" />
<line x1="201.20" y1="559.66" x2="201.20" y2="533.92" stroke="#a48cb1" stroke-width="1.2" />
<line x1="198.20" y1="533.92" x2="204.20" y2="533.92" stroke="#a48cb1" stroke-width="1.3" />
<rect x="206.80" y="574.09" width="6.80" height="3.51" fill="#6eade2" />
<line x1="210.20" y1="574.09" x2="210.20" y2="569.80" stroke="#6eade2" stroke-width="1.2" />
<line x1="207.20" y1="569.80" x2="213.20" y2="569.80" stroke="#6eade2" stroke-width="1.3" />
<rect x="219.20" y="576.82" width="6.80" height="0.78" fill="#aaa3c6" />
<rect x="228.20" y="569.80" width="6.80" height="7.80" fill="#2c4a83" />
<line x1="231.60" y1="569.80" x2="231.60" y2="565.90" stroke="#2c4a83" stroke-width="1.2" />
<line x1="228.60" y1="565.90" x2="234.60" y2="565.90" stroke="#2c4a83" stroke-width="1.3" />
<rect x="237.20" y="574.09" width="6.80" height="3.51" fill="#4c1f5d" />
<line x1="240.60" y1="574.09" x2="240.60" y2="572.53" stroke="#4c1f5d" stroke-width="1.2" />
<line x1="237.60" y1="572.53" x2="243.60" y2="572.53" stroke="#4c1f5d" stroke-width="1.3" />
<rect x="246.20" y="533.53" width="6.80" height="44.07" fill="#a48cb1" />
<line x1="249.60" y1="533.53" x2="249.60" y2="524.56" stroke="#a48cb1" stroke-width="1.2" />
<line x1="246.60" y1="524.56" x2="252.60" y2="524.56" stroke="#a48cb1" stroke-width="1.3" />
<rect x="255.20" y="566.29" width="6.80" height="11.31" fill="#6eade2" />
<line x1="258.60" y1="566.29" x2="258.60" y2="561.22" stroke="#6eade2" stroke-width="1.2" />
<line x1="255.60" y1="561.22" x2="261.60" y2="561.22" stroke="#6eade2" stroke-width="1.3" />
<line x1="216.40" y1="514.20" x2="216.40" y2="577.60" stroke="#333" stroke-width="1.1" stroke-dasharray="1.2,1.6"/>
<line x1="169.90" y1="512.70" x2="169.90" y2="578.30" stroke="#111" stroke-width="1.6" />
<line x1="169.10" y1="577.60" x2="262.90" y2="577.60" stroke="#111" stroke-width="1.6" />
<line x1="166.10" y1="577.60" x2="169.90" y2="577.60" stroke="#111" stroke-width="1.3" />
<text x="162.60" y="580.90" font-size="9.2" text-anchor="end" fill="#262626" >0</text>
<line x1="166.10" y1="562.00" x2="169.90" y2="562.00" stroke="#111" stroke-width="1.3" />
<text x="162.60" y="565.30" font-size="9.2" text-anchor="end" fill="#262626" >2</text>
<line x1="166.10" y1="546.40" x2="169.90" y2="546.40" stroke="#111" stroke-width="1.3" />
<text x="162.60" y="549.70" font-size="9.2" text-anchor="end" fill="#262626" >4</text>
<line x1="166.10" y1="530.80" x2="169.90" y2="530.80" stroke="#111" stroke-width="1.3" />
<text x="162.60" y="534.10" font-size="9.2" text-anchor="end" fill="#262626" >6</text>
<line x1="166.10" y1="515.20" x2="169.90" y2="515.20" stroke="#111" stroke-width="1.3" />
<text x="162.60" y="518.50" font-size="9.2" text-anchor="end" fill="#262626" >8</text>
<line x1="174.20" y1="577.60" x2="174.20" y2="580.60" stroke="#111" stroke-width="1.2" />
<text x="0" y="0" font-size="9.4" text-anchor="end" fill="#262626" transform="translate(177.10,584.80) rotate(-90)" textLength="66" lengthAdjust="spacingAndGlyphs">negative control</text>
<line x1="183.20" y1="577.60" x2="183.20" y2="580.60" stroke="#111" stroke-width="1.2" />
<text x="0" y="0" font-size="9.4" text-anchor="end" fill="#262626" transform="translate(186.10,584.80) rotate(-90)" textLength="35.5" lengthAdjust="spacingAndGlyphs">CDKN1A</text>
<line x1="192.20" y1="577.60" x2="192.20" y2="580.60" stroke="#111" stroke-width="1.2" />
<text x="0" y="0" font-size="9.4" text-anchor="end" fill="#262626" transform="translate(195.10,584.80) rotate(-90)" textLength="13.3" lengthAdjust="spacingAndGlyphs">ID1</text>
<line x1="201.20" y1="577.60" x2="201.20" y2="580.60" stroke="#111" stroke-width="1.2" />
<text x="0" y="0" font-size="9.4" text-anchor="end" fill="#262626" transform="translate(204.10,584.80) rotate(-90)" textLength="33.6" lengthAdjust="spacingAndGlyphs">S1PR2 G</text>
<line x1="210.20" y1="577.60" x2="210.20" y2="580.60" stroke="#111" stroke-width="1.2" />
<text x="0" y="0" font-size="9.4" text-anchor="end" fill="#262626" transform="translate(213.10,584.80) rotate(-90)" textLength="33.6" lengthAdjust="spacingAndGlyphs">S1PR2 H</text>
<line x1="222.60" y1="577.60" x2="222.60" y2="580.60" stroke="#111" stroke-width="1.2" />
<text x="0" y="0" font-size="9.4" text-anchor="end" fill="#262626" transform="translate(225.50,584.80) rotate(-90)" textLength="66" lengthAdjust="spacingAndGlyphs">negative control</text>
<line x1="231.60" y1="577.60" x2="231.60" y2="580.60" stroke="#111" stroke-width="1.2" />
<text x="0" y="0" font-size="9.4" text-anchor="end" fill="#262626" transform="translate(234.50,584.80) rotate(-90)" textLength="35.5" lengthAdjust="spacingAndGlyphs">CDKN1A</text>
<line x1="240.60" y1="577.60" x2="240.60" y2="580.60" stroke="#111" stroke-width="1.2" />
<text x="0" y="0" font-size="9.4" text-anchor="end" fill="#262626" transform="translate(243.50,584.80) rotate(-90)" textLength="13.3" lengthAdjust="spacingAndGlyphs">ID1</text>
<line x1="249.60" y1="577.60" x2="249.60" y2="580.60" stroke="#111" stroke-width="1.2" />
<text x="0" y="0" font-size="9.4" text-anchor="end" fill="#262626" transform="translate(252.50,584.80) rotate(-90)" textLength="33.6" lengthAdjust="spacingAndGlyphs">S1PR2 G</text>
<line x1="258.60" y1="577.60" x2="258.60" y2="580.60" stroke="#111" stroke-width="1.2" />
<text x="0" y="0" font-size="9.4" text-anchor="end" fill="#262626" transform="translate(261.50,584.80) rotate(-90)" textLength="33.6" lengthAdjust="spacingAndGlyphs">S1PR2 H</text>
<text x="216.30" y="505.80" font-size="9.2" text-anchor="middle" fill="#262626" >Oci-Ly10</text>
<line x1="172.70" y1="655.50" x2="213.00" y2="655.50" stroke="#111" stroke-width="1.3" />
<line x1="217.80" y1="655.50" x2="258.30" y2="655.50" stroke="#111" stroke-width="1.3" />
<text x="192.85" y="667.30" font-size="9" text-anchor="middle" fill="#262626" >-</text>
<text x="238.05" y="667.30" font-size="9" text-anchor="middle" fill="#262626" >+</text>
<line x1="282.60" y1="568.97" x2="376.30" y2="568.97" stroke="#333" stroke-width="1.1" stroke-dasharray="1.2,1.6"/>
<rect x="283.50" y="572.89" width="6.80" height="3.91" fill="#aaa3c6" />
<line x1="286.90" y1="572.89" x2="286.90" y2="568.58" stroke="#aaa3c6" stroke-width="1.2" />
<line x1="283.90" y1="568.58" x2="289.90" y2="568.58" stroke="#aaa3c6" stroke-width="1.3" />
<rect x="292.65" y="571.32" width="6.80" height="5.48" fill="#2c4a83" />
<line x1="296.05" y1="571.32" x2="296.05" y2="564.28" stroke="#2c4a83" stroke-width="1.2" />
<line x1="293.05" y1="564.28" x2="299.05" y2="564.28" stroke="#2c4a83" stroke-width="1.3" />
<rect x="301.80" y="575.63" width="6.80" height="1.17" fill="#4c1f5d" />
<line x1="305.20" y1="575.63" x2="305.20" y2="574.84" stroke="#4c1f5d" stroke-width="1.2" />
<line x1="302.20" y1="574.84" x2="308.20" y2="574.84" stroke="#4c1f5d" stroke-width="1.3" />
<rect x="310.95" y="575.63" width="6.80" height="1.17" fill="#a48cb1" />
<line x1="314.35" y1="575.63" x2="314.35" y2="572.11" stroke="#a48cb1" stroke-width="1.2" />
<line x1="311.35" y1="572.11" x2="317.35" y2="572.11" stroke="#a48cb1" stroke-width="1.3" />
<rect x="320.10" y="570.93" width="6.80" height="5.87" fill="#6eade2" />
<line x1="323.50" y1="570.93" x2="323.50" y2="563.89" stroke="#6eade2" stroke-width="1.2" />
<line x1="320.50" y1="563.89" x2="326.50" y2="563.89" stroke="#6eade2" stroke-width="1.3" />
<rect x="332.00" y="568.97" width="6.80" height="7.83" fill="#aaa3c6" />
<line x1="335.40" y1="568.97" x2="335.40" y2="567.80" stroke="#aaa3c6" stroke-width="1.2" />
<line x1="332.40" y1="567.80" x2="338.40" y2="567.80" stroke="#aaa3c6" stroke-width="1.3" />
<rect x="341.15" y="564.67" width="6.80" height="12.13" fill="#2c4a83" />
<line x1="344.55" y1="564.67" x2="344.55" y2="558.02" stroke="#2c4a83" stroke-width="1.2" />
<line x1="341.55" y1="558.02" x2="347.55" y2="558.02" stroke="#2c4a83" stroke-width="1.3" />
<rect x="350.30" y="576.02" width="6.80" height="0.78" fill="#4c1f5d" />
<line x1="353.70" y1="576.02" x2="353.70" y2="574.45" stroke="#4c1f5d" stroke-width="1.2" />
<line x1="350.70" y1="574.45" x2="356.70" y2="574.45" stroke="#4c1f5d" stroke-width="1.3" />
<rect x="359.45" y="576.02" width="6.80" height="0.78" fill="#a48cb1" />
<line x1="362.85" y1="576.02" x2="362.85" y2="575.63" stroke="#a48cb1" stroke-width="1.2" />
<line x1="359.85" y1="575.63" x2="365.85" y2="575.63" stroke="#a48cb1" stroke-width="1.3" />
<rect x="368.60" y="568.58" width="6.80" height="8.22" fill="#6eade2" />
<line x1="329.45" y1="513.40" x2="329.45" y2="576.80" stroke="#333" stroke-width="1.1" stroke-dasharray="1.2,1.6"/>
<line x1="282.60" y1="511.90" x2="282.60" y2="577.50" stroke="#111" stroke-width="1.6" />
<line x1="281.80" y1="576.80" x2="376.30" y2="576.80" stroke="#111" stroke-width="1.6" />
<line x1="278.80" y1="576.80" x2="282.60" y2="576.80" stroke="#111" stroke-width="1.3" />
<text x="275.30" y="580.10" font-size="9.2" text-anchor="end" fill="#262626" >0</text>
<line x1="278.80" y1="561.15" x2="282.60" y2="561.15" stroke="#111" stroke-width="1.3" />
<text x="275.30" y="564.45" font-size="9.2" text-anchor="end" fill="#262626" >2</text>
<line x1="278.80" y1="545.50" x2="282.60" y2="545.50" stroke="#111" stroke-width="1.3" />
<text x="275.30" y="548.80" font-size="9.2" text-anchor="end" fill="#262626" >4</text>
<line x1="278.80" y1="529.85" x2="282.60" y2="529.85" stroke="#111" stroke-width="1.3" />
<text x="275.30" y="533.15" font-size="9.2" text-anchor="end" fill="#262626" >6</text>
<line x1="278.80" y1="514.20" x2="282.60" y2="514.20" stroke="#111" stroke-width="1.3" />
<text x="275.30" y="517.50" font-size="9.2" text-anchor="end" fill="#262626" >8</text>
<line x1="286.90" y1="576.80" x2="286.90" y2="579.80" stroke="#111" stroke-width="1.2" />
<text x="0" y="0" font-size="9.4" text-anchor="end" fill="#262626" transform="translate(289.80,584.80) rotate(-90)" textLength="66" lengthAdjust="spacingAndGlyphs">negative control</text>
<line x1="296.05" y1="576.80" x2="296.05" y2="579.80" stroke="#111" stroke-width="1.2" />
<text x="0" y="0" font-size="9.4" text-anchor="end" fill="#262626" transform="translate(298.95,584.80) rotate(-90)" textLength="35.5" lengthAdjust="spacingAndGlyphs">CDKN1A</text>
<line x1="305.20" y1="576.80" x2="305.20" y2="579.80" stroke="#111" stroke-width="1.2" />
<text x="0" y="0" font-size="9.4" text-anchor="end" fill="#262626" transform="translate(308.10,584.80) rotate(-90)" textLength="13.3" lengthAdjust="spacingAndGlyphs">ID1</text>
<line x1="314.35" y1="576.80" x2="314.35" y2="579.80" stroke="#111" stroke-width="1.2" />
<text x="0" y="0" font-size="9.4" text-anchor="end" fill="#262626" transform="translate(317.25,584.80) rotate(-90)" textLength="33.6" lengthAdjust="spacingAndGlyphs">S1PR2 G</text>
<line x1="323.50" y1="576.80" x2="323.50" y2="579.80" stroke="#111" stroke-width="1.2" />
<text x="0" y="0" font-size="9.4" text-anchor="end" fill="#262626" transform="translate(326.40,584.80) rotate(-90)" textLength="33.6" lengthAdjust="spacingAndGlyphs">S1PR2 H</text>
<line x1="335.40" y1="576.80" x2="335.40" y2="579.80" stroke="#111" stroke-width="1.2" />
<text x="0" y="0" font-size="9.4" text-anchor="end" fill="#262626" transform="translate(338.30,584.80) rotate(-90)" textLength="66" lengthAdjust="spacingAndGlyphs">negative control</text>
<line x1="344.55" y1="576.80" x2="344.55" y2="579.80" stroke="#111" stroke-width="1.2" />
<text x="0" y="0" font-size="9.4" text-anchor="end" fill="#262626" transform="translate(347.45,584.80) rotate(-90)" textLength="35.5" lengthAdjust="spacingAndGlyphs">CDKN1A</text>
<line x1="353.70" y1="576.80" x2="353.70" y2="579.80" stroke="#111" stroke-width="1.2" />
<text x="0" y="0" font-size="9.4" text-anchor="end" fill="#262626" transform="translate(356.60,584.80) rotate(-90)" textLength="13.3" lengthAdjust="spacingAndGlyphs">ID1</text>
<line x1="362.85" y1="576.80" x2="362.85" y2="579.80" stroke="#111" stroke-width="1.2" />
<text x="0" y="0" font-size="9.4" text-anchor="end" fill="#262626" transform="translate(365.75,584.80) rotate(-90)" textLength="33.6" lengthAdjust="spacingAndGlyphs">S1PR2 G</text>
<line x1="372.00" y1="576.80" x2="372.00" y2="579.80" stroke="#111" stroke-width="1.2" />
<text x="0" y="0" font-size="9.4" text-anchor="end" fill="#262626" transform="translate(374.90,584.80) rotate(-90)" textLength="33.6" lengthAdjust="spacingAndGlyphs">S1PR2 H</text>
<text x="330.00" y="505.80" font-size="9.2" text-anchor="middle" fill="#262626" >RC-K8</text>
<line x1="285.40" y1="655.50" x2="326.30" y2="655.50" stroke="#111" stroke-width="1.3" />
<line x1="330.60" y1="655.50" x2="371.70" y2="655.50" stroke="#111" stroke-width="1.3" />
<text x="305.85" y="667.30" font-size="9" text-anchor="middle" fill="#262626" >-</text>
<text x="351.15" y="667.30" font-size="9" text-anchor="middle" fill="#262626" >+</text>
<line x1="395.70" y1="568.97" x2="489.40" y2="568.97" stroke="#333" stroke-width="1.1" stroke-dasharray="1.2,1.6"/>
<rect x="396.60" y="568.97" width="6.80" height="7.83" fill="#aaa3c6" />
<line x1="400.00" y1="568.97" x2="400.00" y2="566.63" stroke="#aaa3c6" stroke-width="1.2" />
<line x1="397.00" y1="566.63" x2="403.00" y2="566.63" stroke="#aaa3c6" stroke-width="1.3" />
<rect x="405.75" y="571.32" width="6.80" height="5.48" fill="#2c4a83" />
<line x1="409.15" y1="571.32" x2="409.15" y2="565.85" stroke="#2c4a83" stroke-width="1.2" />
<line x1="406.15" y1="565.85" x2="412.15" y2="565.85" stroke="#2c4a83" stroke-width="1.3" />
<rect x="414.90" y="570.93" width="6.80" height="5.87" fill="#4c1f5d" />
<line x1="418.30" y1="570.93" x2="418.30" y2="568.19" stroke="#4c1f5d" stroke-width="1.2" />
<line x1="415.30" y1="568.19" x2="421.30" y2="568.19" stroke="#4c1f5d" stroke-width="1.3" />
<rect x="424.05" y="568.97" width="6.80" height="7.83" fill="#a48cb1" />
<line x1="427.45" y1="568.97" x2="427.45" y2="564.28" stroke="#a48cb1" stroke-width="1.2" />
<line x1="424.45" y1="564.28" x2="430.45" y2="564.28" stroke="#a48cb1" stroke-width="1.3" />
<rect x="433.20" y="563.11" width="6.80" height="13.69" fill="#6eade2" />
<line x1="436.60" y1="563.11" x2="436.60" y2="559.98" stroke="#6eade2" stroke-width="1.2" />
<line x1="433.60" y1="559.98" x2="439.60" y2="559.98" stroke="#6eade2" stroke-width="1.3" />
<rect x="445.10" y="570.15" width="6.80" height="6.65" fill="#aaa3c6" />
<line x1="448.50" y1="570.15" x2="448.50" y2="563.50" stroke="#aaa3c6" stroke-width="1.2" />
<line x1="445.50" y1="563.50" x2="451.50" y2="563.50" stroke="#aaa3c6" stroke-width="1.3" />
<rect x="454.25" y="569.76" width="6.80" height="7.04" fill="#2c4a83" />
<line x1="457.65" y1="569.76" x2="457.65" y2="563.50" stroke="#2c4a83" stroke-width="1.2" />
<line x1="454.65" y1="563.50" x2="460.65" y2="563.50" stroke="#2c4a83" stroke-width="1.3" />
<rect x="463.40" y="572.50" width="6.80" height="4.30" fill="#4c1f5d" />
<line x1="466.80" y1="572.50" x2="466.80" y2="568.19" stroke="#4c1f5d" stroke-width="1.2" />
<line x1="463.80" y1="568.19" x2="469.80" y2="568.19" stroke="#4c1f5d" stroke-width="1.3" />
<rect x="472.55" y="568.97" width="6.80" height="7.83" fill="#a48cb1" />
<rect x="481.70" y="568.58" width="6.80" height="8.22" fill="#6eade2" />
<line x1="485.10" y1="568.58" x2="485.10" y2="563.11" stroke="#6eade2" stroke-width="1.2" />
<line x1="482.10" y1="563.11" x2="488.10" y2="563.11" stroke="#6eade2" stroke-width="1.3" />
<line x1="442.55" y1="513.00" x2="442.55" y2="576.80" stroke="#333" stroke-width="1.1" stroke-dasharray="1.2,1.6"/>
<line x1="395.70" y1="511.50" x2="395.70" y2="577.50" stroke="#111" stroke-width="1.6" />
<line x1="394.90" y1="576.80" x2="489.40" y2="576.80" stroke="#111" stroke-width="1.6" />
<line x1="391.90" y1="576.80" x2="395.70" y2="576.80" stroke="#111" stroke-width="1.3" />
<text x="388.40" y="580.10" font-size="9.2" text-anchor="end" fill="#262626" >0</text>
<line x1="391.90" y1="561.15" x2="395.70" y2="561.15" stroke="#111" stroke-width="1.3" />
<text x="388.40" y="564.45" font-size="9.2" text-anchor="end" fill="#262626" >2</text>
<line x1="391.90" y1="545.50" x2="395.70" y2="545.50" stroke="#111" stroke-width="1.3" />
<text x="388.40" y="548.80" font-size="9.2" text-anchor="end" fill="#262626" >4</text>
<line x1="391.90" y1="529.85" x2="395.70" y2="529.85" stroke="#111" stroke-width="1.3" />
<text x="388.40" y="533.15" font-size="9.2" text-anchor="end" fill="#262626" >6</text>
<line x1="391.90" y1="514.20" x2="395.70" y2="514.20" stroke="#111" stroke-width="1.3" />
<text x="388.40" y="517.50" font-size="9.2" text-anchor="end" fill="#262626" >8</text>
<line x1="400.00" y1="576.80" x2="400.00" y2="579.80" stroke="#111" stroke-width="1.2" />
<text x="0" y="0" font-size="9.4" text-anchor="end" fill="#262626" transform="translate(402.90,584.80) rotate(-90)" textLength="66" lengthAdjust="spacingAndGlyphs">negative control</text>
<line x1="409.15" y1="576.80" x2="409.15" y2="579.80" stroke="#111" stroke-width="1.2" />
<text x="0" y="0" font-size="9.4" text-anchor="end" fill="#262626" transform="translate(412.05,584.80) rotate(-90)" textLength="35.5" lengthAdjust="spacingAndGlyphs">CDKN1A</text>
<line x1="418.30" y1="576.80" x2="418.30" y2="579.80" stroke="#111" stroke-width="1.2" />
<text x="0" y="0" font-size="9.4" text-anchor="end" fill="#262626" transform="translate(421.20,584.80) rotate(-90)" textLength="13.3" lengthAdjust="spacingAndGlyphs">ID1</text>
<line x1="427.45" y1="576.80" x2="427.45" y2="579.80" stroke="#111" stroke-width="1.2" />
<text x="0" y="0" font-size="9.4" text-anchor="end" fill="#262626" transform="translate(430.35,584.80) rotate(-90)" textLength="33.6" lengthAdjust="spacingAndGlyphs">S1PR2 G</text>
<line x1="436.60" y1="576.80" x2="436.60" y2="579.80" stroke="#111" stroke-width="1.2" />
<text x="0" y="0" font-size="9.4" text-anchor="end" fill="#262626" transform="translate(439.50,584.80) rotate(-90)" textLength="33.6" lengthAdjust="spacingAndGlyphs">S1PR2 H</text>
<line x1="448.50" y1="576.80" x2="448.50" y2="579.80" stroke="#111" stroke-width="1.2" />
<text x="0" y="0" font-size="9.4" text-anchor="end" fill="#262626" transform="translate(451.40,584.80) rotate(-90)" textLength="66" lengthAdjust="spacingAndGlyphs">negative control</text>
<line x1="457.65" y1="576.80" x2="457.65" y2="579.80" stroke="#111" stroke-width="1.2" />
<text x="0" y="0" font-size="9.4" text-anchor="end" fill="#262626" transform="translate(460.55,584.80) rotate(-90)" textLength="35.5" lengthAdjust="spacingAndGlyphs">CDKN1A</text>
<line x1="466.80" y1="576.80" x2="466.80" y2="579.80" stroke="#111" stroke-width="1.2" />
<text x="0" y="0" font-size="9.4" text-anchor="end" fill="#262626" transform="translate(469.70,584.80) rotate(-90)" textLength="13.3" lengthAdjust="spacingAndGlyphs">ID1</text>
<line x1="475.95" y1="576.80" x2="475.95" y2="579.80" stroke="#111" stroke-width="1.2" />
<text x="0" y="0" font-size="9.4" text-anchor="end" fill="#262626" transform="translate(478.85,584.80) rotate(-90)" textLength="33.6" lengthAdjust="spacingAndGlyphs">S1PR2 G</text>
<line x1="485.10" y1="576.80" x2="485.10" y2="579.80" stroke="#111" stroke-width="1.2" />
<text x="0" y="0" font-size="9.4" text-anchor="end" fill="#262626" transform="translate(488.00,584.80) rotate(-90)" textLength="33.6" lengthAdjust="spacingAndGlyphs">S1PR2 H</text>
<text x="442.00" y="505.80" font-size="9.2" text-anchor="middle" fill="#262626" >Oci-Ly3</text>
<line x1="398.50" y1="655.50" x2="439.40" y2="655.50" stroke="#111" stroke-width="1.3" />
<line x1="443.70" y1="655.50" x2="484.80" y2="655.50" stroke="#111" stroke-width="1.3" />
<text x="418.95" y="667.30" font-size="9" text-anchor="middle" fill="#262626" >-</text>
<text x="464.25" y="667.30" font-size="9" text-anchor="middle" fill="#262626" >+</text>
<text x="0" y="0" font-size="10.4" text-anchor="middle" fill="#262626" transform="translate(37.90,544.80) rotate(-90)" textLength="83.5" lengthAdjust="spacingAndGlyphs">Fold change vs IgG ctr</text>
<text x="38.30" y="666.00" font-size="9.6" text-anchor="middle" fill="#262626" textLength="21.00" lengthAdjust="spacingAndGlyphs" >TGFβ</text>
<rect x="0.75" y="0.75" width="518.5" height="675.5" fill="none" stroke="#000" stroke-width="1.6"/>
</svg>
</body></html>
